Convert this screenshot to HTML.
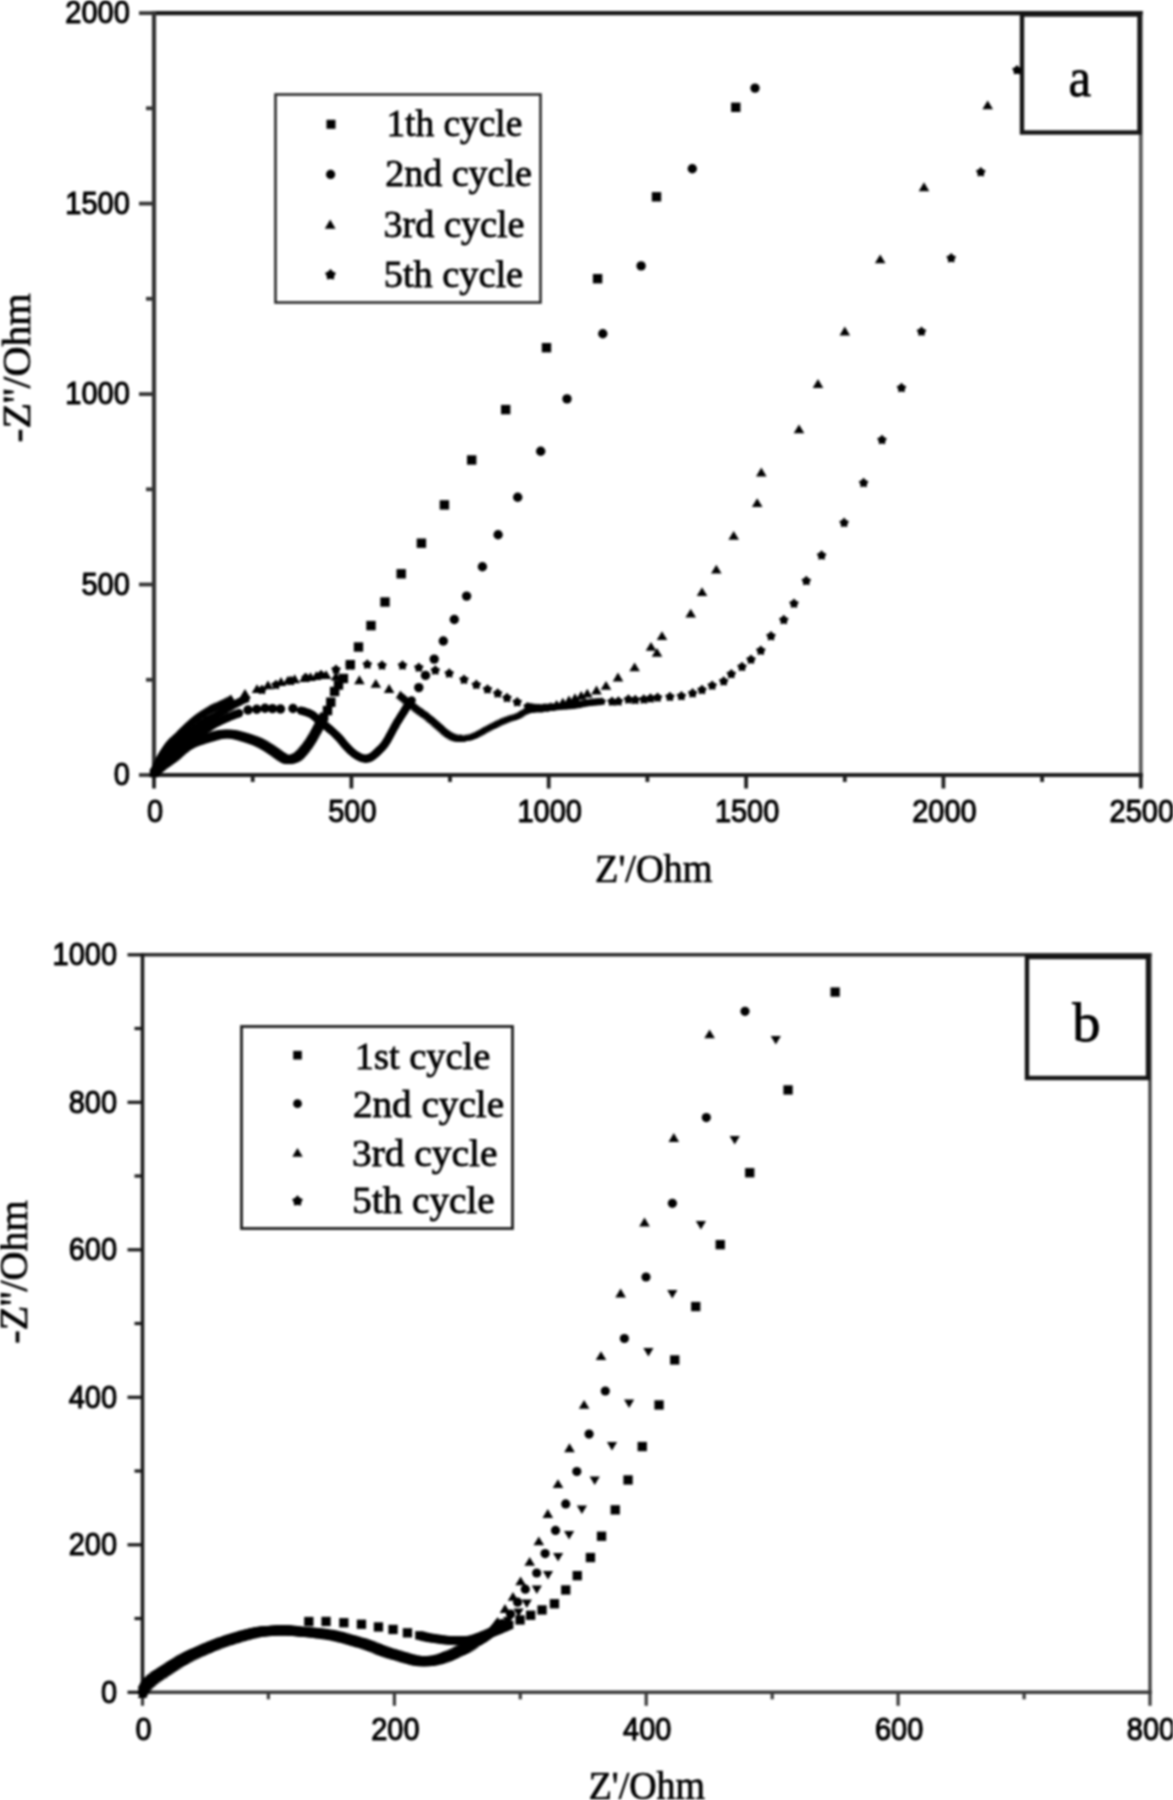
<!DOCTYPE html>
<html><head><meta charset="utf-8"><title>Nyquist plots</title>
<style>
html,body{margin:0;padding:0;background:#fff;}
body{width:1173px;height:1800px;overflow:hidden;}
svg{display:block;filter:blur(1.0px);}
.tk{font-family:"Liberation Sans",sans-serif;font-size:31.5px;fill:#000;stroke:#000;stroke-width:1.1px;}
.ttl{font-family:"Liberation Serif",serif;font-size:39.5px;fill:#000;stroke:#000;stroke-width:0.7px;}
.lg{font-family:"Liberation Serif",serif;font-size:38px;fill:#000;stroke:#000;stroke-width:0.8px;}
.big{font-family:"Liberation Serif",serif;font-size:55px;fill:#000;stroke:#000;stroke-width:0.8px;}
</style></head>
<body>
<svg width="1173" height="1800" viewBox="0 0 1173 1800">
<rect width="1173" height="1800" fill="#fff"/>
<g>
<line x1="151.9" y1="13.1" x2="1142.9" y2="13.1" stroke="#151515" stroke-width="4.2"/>
<line x1="1140.8" y1="13.1" x2="1140.8" y2="775.0" stroke="#5a5a5a" stroke-width="3.78"/>
<line x1="154.0" y1="11.0" x2="154.0" y2="777.1" stroke="#333" stroke-width="4.2"/>
<line x1="151.9" y1="775.0" x2="1142.9" y2="775.0" stroke="#1e1e1e" stroke-width="4.2"/>
<line x1="154.0" y1="775.0" x2="154.0" y2="788.5" stroke="#1e1e1e" stroke-width="3.78"/>
<text transform="translate(155.0 821.8) scale(0.92 1)" text-anchor="middle" class="tk">0</text>
<line x1="351.4" y1="775.0" x2="351.4" y2="788.5" stroke="#1e1e1e" stroke-width="3.78"/>
<text transform="translate(352.4 821.8) scale(0.92 1)" text-anchor="middle" class="tk">500</text>
<line x1="548.7" y1="775.0" x2="548.7" y2="788.5" stroke="#1e1e1e" stroke-width="3.78"/>
<text transform="translate(549.7 821.8) scale(0.92 1)" text-anchor="middle" class="tk">1000</text>
<line x1="746.1" y1="775.0" x2="746.1" y2="788.5" stroke="#1e1e1e" stroke-width="3.78"/>
<text transform="translate(747.1 821.8) scale(0.92 1)" text-anchor="middle" class="tk">1500</text>
<line x1="943.4" y1="775.0" x2="943.4" y2="788.5" stroke="#1e1e1e" stroke-width="3.78"/>
<text transform="translate(944.4 821.8) scale(0.92 1)" text-anchor="middle" class="tk">2000</text>
<line x1="1140.8" y1="775.0" x2="1140.8" y2="788.5" stroke="#1e1e1e" stroke-width="3.78"/>
<text transform="translate(1141.8 821.8) scale(0.92 1)" text-anchor="middle" class="tk">2500</text>
<line x1="252.7" y1="775.0" x2="252.7" y2="782.0" stroke="#1e1e1e" stroke-width="3.78"/>
<line x1="450.0" y1="775.0" x2="450.0" y2="782.0" stroke="#1e1e1e" stroke-width="3.78"/>
<line x1="647.4" y1="775.0" x2="647.4" y2="782.0" stroke="#1e1e1e" stroke-width="3.78"/>
<line x1="844.8" y1="775.0" x2="844.8" y2="782.0" stroke="#1e1e1e" stroke-width="3.78"/>
<line x1="1042.1" y1="775.0" x2="1042.1" y2="782.0" stroke="#1e1e1e" stroke-width="3.78"/>
<line x1="154.0" y1="775.0" x2="139.0" y2="775.0" stroke="#333" stroke-width="3.78"/>
<text transform="translate(129.8 785.3) scale(0.92 1)" text-anchor="end" class="tk">0</text>
<line x1="154.0" y1="584.5" x2="139.0" y2="584.5" stroke="#333" stroke-width="3.78"/>
<text transform="translate(129.8 594.8) scale(0.92 1)" text-anchor="end" class="tk">500</text>
<line x1="154.0" y1="394.1" x2="139.0" y2="394.1" stroke="#333" stroke-width="3.78"/>
<text transform="translate(129.8 404.4) scale(0.92 1)" text-anchor="end" class="tk">1000</text>
<line x1="154.0" y1="203.6" x2="139.0" y2="203.6" stroke="#333" stroke-width="3.78"/>
<text transform="translate(129.8 213.9) scale(0.92 1)" text-anchor="end" class="tk">1500</text>
<line x1="154.0" y1="13.1" x2="139.0" y2="13.1" stroke="#333" stroke-width="3.78"/>
<text transform="translate(129.8 23.4) scale(0.92 1)" text-anchor="end" class="tk">2000</text>
<line x1="154.0" y1="679.8" x2="146.0" y2="679.8" stroke="#333" stroke-width="3.78"/>
<line x1="154.0" y1="489.3" x2="146.0" y2="489.3" stroke="#333" stroke-width="3.78"/>
<line x1="154.0" y1="298.8" x2="146.0" y2="298.8" stroke="#333" stroke-width="3.78"/>
<line x1="154.0" y1="108.3" x2="146.0" y2="108.3" stroke="#333" stroke-width="3.78"/>
<text x="595.09" y="881.50" class="ttl" textLength="117.43" lengthAdjust="spacingAndGlyphs">Z&#39;/Ohm</text>
<text transform="translate(29.50 442.46) rotate(-90)" class="ttl" textLength="149.17" lengthAdjust="spacingAndGlyphs">-Z&#39;&#39;/Ohm</text>
<rect x="275.5" y="94.5" width="265" height="208" fill="#fff" stroke="#2a2a2a" stroke-width="2.6"/>
<g fill="#000"><rect x="326.5" y="119.8" width="9.0" height="9.0"/><circle cx="330.6" cy="174.4" r="4.6"/><path d="M330.2 219.6L335.6 228.7L324.8 228.7Z"/><path d="M330.5 269.0L332.9 271.5L336.0 273.0L334.3 276.0L333.9 279.5L330.5 278.8L327.1 279.5L326.7 276.0L325.0 273.0L328.1 271.5Z"/></g>
<text x="386.44" y="136.20" class="lg" textLength="135.86" lengthAdjust="spacingAndGlyphs">1th cycle</text>
<text x="385.19" y="185.50" class="lg" textLength="146.61" lengthAdjust="spacingAndGlyphs">2nd cycle</text>
<text x="383.49" y="237.00" class="lg" textLength="141.05" lengthAdjust="spacingAndGlyphs">3rd cycle</text>
<text x="383.80" y="287.00" class="lg" textLength="139.23" lengthAdjust="spacingAndGlyphs">5th cycle</text>
<rect x="1022" y="14.5" width="117.5" height="118" fill="#fff" stroke="#151515" stroke-width="4.4"/>
<text x="1068.52" y="96.00" class="big" textLength="22.58" lengthAdjust="spacingAndGlyphs">a</text>
<g fill="#000">
<rect x="149.8" y="768.8" width="8.5" height="8.5"/>
<rect x="151.4" y="767.1" width="8.5" height="8.5"/>
<rect x="153.0" y="765.5" width="8.5" height="8.5"/>
<rect x="154.7" y="764.1" width="8.5" height="8.5"/>
<rect x="156.5" y="762.6" width="8.5" height="8.5"/>
<rect x="158.2" y="761.2" width="8.5" height="8.5"/>
<rect x="160.1" y="759.8" width="8.5" height="8.5"/>
<rect x="161.9" y="758.5" width="8.5" height="8.5"/>
<rect x="163.7" y="757.2" width="8.5" height="8.5"/>
<rect x="165.6" y="755.9" width="8.5" height="8.5"/>
<rect x="167.5" y="754.5" width="8.5" height="8.5"/>
<rect x="169.3" y="753.2" width="8.5" height="8.5"/>
<rect x="171.1" y="751.8" width="8.5" height="8.5"/>
<rect x="172.8" y="750.3" width="8.5" height="8.5"/>
<rect x="174.4" y="748.8" width="8.5" height="8.5"/>
<rect x="176.1" y="747.3" width="8.5" height="8.5"/>
<rect x="177.7" y="745.8" width="8.5" height="8.5"/>
<rect x="179.6" y="744.4" width="8.5" height="8.5"/>
<rect x="181.5" y="742.9" width="8.5" height="8.5"/>
<rect x="183.4" y="741.5" width="8.5" height="8.5"/>
<rect x="185.5" y="740.3" width="8.5" height="8.5"/>
<rect x="187.5" y="739.2" width="8.5" height="8.5"/>
<rect x="189.6" y="738.3" width="8.5" height="8.5"/>
<rect x="191.9" y="737.4" width="8.5" height="8.5"/>
<rect x="194.2" y="736.6" width="8.5" height="8.5"/>
<rect x="196.5" y="735.9" width="8.5" height="8.5"/>
<rect x="198.8" y="735.1" width="8.5" height="8.5"/>
<rect x="201.1" y="734.4" width="8.5" height="8.5"/>
<rect x="203.3" y="733.7" width="8.5" height="8.5"/>
<rect x="205.6" y="733.1" width="8.5" height="8.5"/>
<rect x="207.7" y="732.5" width="8.5" height="8.5"/>
<rect x="210.0" y="731.8" width="8.5" height="8.5"/>
<rect x="212.1" y="731.2" width="8.5" height="8.5"/>
<rect x="214.4" y="730.6" width="8.5" height="8.5"/>
<rect x="216.7" y="730.2" width="8.5" height="8.5"/>
<rect x="218.9" y="729.9" width="8.5" height="8.5"/>
<rect x="221.2" y="729.8" width="8.5" height="8.5"/>
<rect x="223.5" y="729.7" width="8.5" height="8.5"/>
<rect x="225.8" y="729.8" width="8.5" height="8.5"/>
<rect x="228.0" y="730.0" width="8.5" height="8.5"/>
<rect x="230.2" y="730.4" width="8.5" height="8.5"/>
<rect x="232.5" y="730.9" width="8.5" height="8.5"/>
<rect x="234.7" y="731.5" width="8.5" height="8.5"/>
<rect x="237.1" y="732.1" width="8.5" height="8.5"/>
<rect x="239.4" y="732.8" width="8.5" height="8.5"/>
<rect x="241.5" y="733.4" width="8.5" height="8.5"/>
<rect x="243.7" y="734.1" width="8.5" height="8.5"/>
<rect x="245.8" y="734.8" width="8.5" height="8.5"/>
<rect x="248.1" y="735.6" width="8.5" height="8.5"/>
<rect x="250.4" y="736.4" width="8.5" height="8.5"/>
<rect x="252.7" y="737.3" width="8.5" height="8.5"/>
<rect x="254.7" y="738.2" width="8.5" height="8.5"/>
<rect x="256.7" y="739.2" width="8.5" height="8.5"/>
<rect x="258.8" y="740.3" width="8.5" height="8.5"/>
<rect x="260.8" y="741.5" width="8.5" height="8.5"/>
<rect x="262.9" y="742.8" width="8.5" height="8.5"/>
<rect x="265.0" y="744.1" width="8.5" height="8.5"/>
<rect x="267.0" y="745.4" width="8.5" height="8.5"/>
<rect x="268.9" y="746.7" width="8.5" height="8.5"/>
<rect x="270.8" y="748.0" width="8.5" height="8.5"/>
<rect x="272.7" y="749.4" width="8.5" height="8.5"/>
<rect x="274.5" y="750.7" width="8.5" height="8.5"/>
<rect x="276.3" y="752.0" width="8.5" height="8.5"/>
<rect x="278.3" y="753.2" width="8.5" height="8.5"/>
<rect x="280.3" y="754.4" width="8.5" height="8.5"/>
<rect x="282.4" y="755.3" width="8.5" height="8.5"/>
<rect x="284.6" y="755.6" width="8.5" height="8.5"/>
<rect x="286.8" y="755.2" width="8.5" height="8.5"/>
<rect x="288.9" y="754.5" width="8.5" height="8.5"/>
<rect x="291.0" y="753.7" width="8.5" height="8.5"/>
<rect x="293.1" y="752.6" width="8.5" height="8.5"/>
<rect x="295.0" y="751.1" width="8.5" height="8.5"/>
<rect x="296.6" y="749.5" width="8.5" height="8.5"/>
<rect x="298.3" y="747.6" width="8.5" height="8.5"/>
<rect x="299.8" y="745.8" width="8.5" height="8.5"/>
<rect x="301.4" y="743.9" width="8.5" height="8.5"/>
<rect x="302.9" y="741.8" width="8.5" height="8.5"/>
<rect x="304.4" y="739.8" width="8.5" height="8.5"/>
<rect x="305.8" y="737.7" width="8.5" height="8.5"/>
<rect x="307.1" y="735.6" width="8.5" height="8.5"/>
<rect x="308.4" y="733.5" width="8.5" height="8.5"/>
<rect x="309.7" y="731.2" width="8.5" height="8.5"/>
<rect x="310.9" y="729.0" width="8.5" height="8.5"/>
<rect x="312.1" y="726.8" width="8.5" height="8.5"/>
<rect x="313.2" y="724.8" width="8.5" height="8.5"/>
<rect x="314.3" y="722.8" width="8.5" height="8.5"/>
<rect x="315.4" y="720.8" width="8.5" height="8.5"/>
<rect x="316.4" y="718.8" width="8.5" height="8.5"/>
<rect x="317.6" y="716.6" width="8.5" height="8.5"/>
<rect x="318.7" y="714.4" width="8.5" height="8.5"/>
<rect x="319.8" y="712.5" width="8.5" height="8.5"/>
<rect x="322.8" y="705.9" width="9.4" height="9.4"/>
<rect x="326.1" y="697.5" width="9.4" height="9.4"/>
<rect x="329.9" y="686.8" width="9.4" height="9.4"/>
<rect x="333.8" y="680.3" width="9.4" height="9.4"/>
<rect x="338.7" y="673.8" width="9.4" height="9.4"/>
<rect x="345.6" y="660.0" width="9.4" height="9.4"/>
<rect x="353.8" y="642.3" width="9.4" height="9.4"/>
<rect x="366.3" y="620.9" width="9.4" height="9.4"/>
<rect x="380.3" y="597.3" width="9.4" height="9.4"/>
<rect x="396.5" y="569.1" width="9.4" height="9.4"/>
<rect x="416.7" y="538.5" width="9.4" height="9.4"/>
<rect x="439.7" y="500.2" width="9.4" height="9.4"/>
<rect x="467.0" y="455.3" width="9.4" height="9.4"/>
<rect x="501.0" y="404.9" width="9.4" height="9.4"/>
<rect x="541.8" y="343.0" width="9.4" height="9.4"/>
<rect x="592.9" y="274.0" width="9.4" height="9.4"/>
<rect x="651.8" y="192.1" width="9.4" height="9.4"/>
<rect x="731.1" y="102.6" width="9.4" height="9.4"/>
<circle cx="154.0" cy="773.0" r="4.2"/>
<circle cx="154.8" cy="770.9" r="4.2"/>
<circle cx="155.6" cy="768.7" r="4.2"/>
<circle cx="156.7" cy="766.7" r="4.2"/>
<circle cx="158.0" cy="764.8" r="4.2"/>
<circle cx="159.3" cy="762.9" r="4.2"/>
<circle cx="160.6" cy="761.2" r="4.2"/>
<circle cx="162.2" cy="759.4" r="4.2"/>
<circle cx="163.7" cy="757.8" r="4.2"/>
<circle cx="165.4" cy="756.2" r="4.2"/>
<circle cx="167.0" cy="754.5" r="4.2"/>
<circle cx="168.7" cy="752.9" r="4.2"/>
<circle cx="170.4" cy="751.2" r="4.2"/>
<circle cx="172.3" cy="749.6" r="4.2"/>
<circle cx="173.9" cy="748.2" r="4.2"/>
<circle cx="175.7" cy="746.8" r="4.2"/>
<circle cx="177.5" cy="745.5" r="4.2"/>
<circle cx="179.3" cy="744.1" r="4.2"/>
<circle cx="181.2" cy="742.9" r="4.2"/>
<circle cx="183.2" cy="741.7" r="4.2"/>
<circle cx="185.2" cy="740.5" r="4.2"/>
<circle cx="187.2" cy="739.4" r="4.2"/>
<circle cx="189.3" cy="738.2" r="4.2"/>
<circle cx="191.2" cy="737.1" r="4.2"/>
<circle cx="193.3" cy="736.0" r="4.2"/>
<circle cx="195.4" cy="734.8" r="4.2"/>
<circle cx="197.4" cy="733.7" r="4.2"/>
<circle cx="199.6" cy="732.5" r="4.2"/>
<circle cx="201.6" cy="731.5" r="4.2"/>
<circle cx="203.7" cy="730.4" r="4.2"/>
<circle cx="205.6" cy="729.4" r="4.2"/>
<circle cx="207.7" cy="728.2" r="4.2"/>
<circle cx="209.6" cy="727.0" r="4.2"/>
<circle cx="211.4" cy="725.8" r="4.2"/>
<circle cx="213.4" cy="724.5" r="4.2"/>
<circle cx="215.4" cy="723.4" r="4.2"/>
<circle cx="217.6" cy="722.4" r="4.2"/>
<circle cx="219.5" cy="721.4" r="4.2"/>
<circle cx="221.7" cy="720.4" r="4.2"/>
<circle cx="223.9" cy="719.4" r="4.2"/>
<circle cx="226.0" cy="718.4" r="4.2"/>
<circle cx="228.0" cy="717.5" r="4.2"/>
<circle cx="230.1" cy="716.6" r="4.2"/>
<circle cx="232.4" cy="715.7" r="4.2"/>
<circle cx="234.6" cy="714.8" r="4.2"/>
<circle cx="236.8" cy="714.0" r="4.2"/>
<circle cx="239.0" cy="713.2" r="4.2"/>
<circle cx="301.0" cy="710.6" r="4.2"/>
<circle cx="303.6" cy="711.3" r="4.2"/>
<circle cx="306.1" cy="712.1" r="4.2"/>
<circle cx="308.7" cy="713.0" r="4.2"/>
<circle cx="311.2" cy="714.1" r="4.2"/>
<circle cx="313.5" cy="715.7" r="4.2"/>
<circle cx="315.7" cy="717.6" r="4.2"/>
<circle cx="317.8" cy="719.5" r="4.2"/>
<circle cx="320.0" cy="721.3" r="4.2"/>
<circle cx="322.2" cy="723.0" r="4.2"/>
<circle cx="324.4" cy="724.7" r="4.2"/>
<circle cx="326.5" cy="726.4" r="4.2"/>
<circle cx="328.6" cy="728.2" r="4.2"/>
<circle cx="330.7" cy="730.0" r="4.2"/>
<circle cx="332.9" cy="731.9" r="4.2"/>
<circle cx="335.0" cy="733.9" r="4.2"/>
<circle cx="336.9" cy="735.7" r="4.2"/>
<circle cx="338.9" cy="737.8" r="4.2"/>
<circle cx="340.7" cy="739.8" r="4.2"/>
<circle cx="342.3" cy="741.8" r="4.2"/>
<circle cx="344.1" cy="744.0" r="4.2"/>
<circle cx="345.9" cy="746.0" r="4.2"/>
<circle cx="347.8" cy="748.0" r="4.2"/>
<circle cx="349.7" cy="750.0" r="4.2"/>
<circle cx="351.8" cy="751.9" r="4.2"/>
<circle cx="353.9" cy="753.6" r="4.2"/>
<circle cx="356.1" cy="755.1" r="4.2"/>
<circle cx="358.3" cy="756.4" r="4.2"/>
<circle cx="360.7" cy="757.6" r="4.2"/>
<circle cx="363.2" cy="758.4" r="4.2"/>
<circle cx="365.8" cy="758.7" r="4.2"/>
<circle cx="368.5" cy="758.2" r="4.2"/>
<circle cx="370.8" cy="757.2" r="4.2"/>
<circle cx="373.2" cy="755.7" r="4.2"/>
<circle cx="375.3" cy="754.0" r="4.2"/>
<circle cx="377.2" cy="752.2" r="4.2"/>
<circle cx="379.2" cy="750.3" r="4.2"/>
<circle cx="381.2" cy="748.4" r="4.2"/>
<circle cx="383.0" cy="746.4" r="4.2"/>
<circle cx="384.6" cy="744.4" r="4.2"/>
<circle cx="386.2" cy="742.0" r="4.2"/>
<circle cx="387.6" cy="739.7" r="4.2"/>
<circle cx="389.1" cy="737.0" r="4.2"/>
<circle cx="390.4" cy="734.6" r="4.2"/>
<circle cx="391.8" cy="732.1" r="4.2"/>
<circle cx="393.1" cy="729.6" r="4.2"/>
<circle cx="394.5" cy="727.1" r="4.2"/>
<circle cx="395.8" cy="724.8" r="4.2"/>
<circle cx="397.3" cy="722.1" r="4.2"/>
<circle cx="398.7" cy="719.9" r="4.2"/>
<circle cx="400.1" cy="717.6" r="4.2"/>
<circle cx="401.5" cy="715.4" r="4.2"/>
<circle cx="403.1" cy="712.9" r="4.2"/>
<circle cx="404.6" cy="710.5" r="4.2"/>
<circle cx="406.1" cy="708.1" r="4.2"/>
<circle cx="407.6" cy="705.9" r="4.2"/>
<circle cx="409.2" cy="703.6" r="4.2"/>
<circle cx="410.8" cy="701.5" r="4.2"/>
<circle cx="411.6" cy="700.4" r="4.2"/>
<circle cx="248.0" cy="710.0" r="4.7"/>
<circle cx="256.7" cy="709.2" r="4.7"/>
<circle cx="265.0" cy="708.2" r="4.7"/>
<circle cx="272.5" cy="708.6" r="4.7"/>
<circle cx="280.5" cy="709.0" r="4.7"/>
<circle cx="293.0" cy="708.5" r="4.7"/>
<circle cx="418.8" cy="687.6" r="4.7"/>
<circle cx="425.5" cy="675.4" r="4.7"/>
<circle cx="434.2" cy="659.1" r="4.7"/>
<circle cx="443.3" cy="641.0" r="4.7"/>
<circle cx="454.3" cy="619.5" r="4.7"/>
<circle cx="466.6" cy="596.1" r="4.7"/>
<circle cx="482.4" cy="566.8" r="4.7"/>
<circle cx="498.1" cy="534.7" r="4.7"/>
<circle cx="517.7" cy="497.2" r="4.7"/>
<circle cx="540.7" cy="451.2" r="4.7"/>
<circle cx="567.0" cy="398.9" r="4.7"/>
<circle cx="602.8" cy="333.7" r="4.7"/>
<circle cx="641.1" cy="265.9" r="4.7"/>
<circle cx="692.3" cy="168.7" r="4.7"/>
<circle cx="755.0" cy="88.1" r="4.7"/>
<path d="M154.0 768.4L158.8 776.4L149.2 776.4Z"/>
<path d="M154.5 766.2L159.3 774.2L149.7 774.2Z"/>
<path d="M155.0 764.0L159.8 772.0L150.2 772.0Z"/>
<path d="M155.6 761.7L160.4 769.7L150.8 769.7Z"/>
<path d="M156.4 759.4L161.2 767.4L151.5 767.4Z"/>
<path d="M157.2 757.2L162.1 765.2L152.4 765.2Z"/>
<path d="M158.1 755.2L163.0 763.2L153.3 763.2Z"/>
<path d="M159.1 753.2L163.9 761.2L154.3 761.2Z"/>
<path d="M160.2 751.1L165.1 759.1L155.4 759.1Z"/>
<path d="M161.3 749.2L166.1 757.2L156.5 757.2Z"/>
<path d="M162.5 747.3L167.3 755.3L157.6 755.3Z"/>
<path d="M163.8 745.3L168.6 753.3L158.9 753.3Z"/>
<path d="M165.1 743.4L169.9 751.4L160.2 751.4Z"/>
<path d="M166.3 741.6L171.2 749.6L161.5 749.6Z"/>
<path d="M167.7 739.9L172.6 747.9L162.9 747.9Z"/>
<path d="M169.3 738.1L174.1 746.1L164.5 746.1Z"/>
<path d="M170.9 736.5L175.8 744.5L166.1 744.5Z"/>
<path d="M172.7 735.0L177.5 743.0L167.8 743.0Z"/>
<path d="M174.3 733.5L179.1 741.5L169.5 741.5Z"/>
<path d="M176.0 731.9L180.8 739.9L171.2 739.9Z"/>
<path d="M177.7 730.2L182.5 738.2L172.9 738.2Z"/>
<path d="M179.3 728.6L184.1 736.6L174.4 736.6Z"/>
<path d="M180.9 727.0L185.7 735.0L176.1 735.0Z"/>
<path d="M182.5 725.4L187.4 733.3L177.7 733.3Z"/>
<path d="M184.2 723.7L189.0 731.7L179.4 731.7Z"/>
<path d="M186.0 722.1L190.8 730.1L181.1 730.1Z"/>
<path d="M187.8 720.5L192.6 728.4L182.9 728.4Z"/>
<path d="M189.6 718.8L194.4 726.8L184.8 726.8Z"/>
<path d="M191.4 717.2L196.2 725.2L186.6 725.2Z"/>
<path d="M193.2 715.8L198.1 723.7L188.4 723.7Z"/>
<path d="M195.0 714.3L199.9 722.3L190.2 722.3Z"/>
<path d="M196.8 713.0L201.7 721.0L192.0 721.0Z"/>
<path d="M198.6 711.7L203.5 719.7L193.8 719.7Z"/>
<path d="M200.7 710.3L205.5 718.3L195.8 718.3Z"/>
<path d="M202.7 709.0L207.5 717.0L197.8 717.0Z"/>
<path d="M204.7 707.7L209.5 715.7L199.9 715.7Z"/>
<path d="M206.7 706.4L211.6 714.4L201.9 714.4Z"/>
<path d="M208.8 705.2L213.6 713.2L203.9 713.2Z"/>
<path d="M210.8 704.1L215.6 712.0L205.9 712.0Z"/>
<path d="M212.8 703.1L217.6 711.1L207.9 711.1Z"/>
<path d="M214.9 702.1L219.8 710.1L210.1 710.1Z"/>
<path d="M217.2 701.2L222.0 709.2L212.3 709.2Z"/>
<path d="M219.3 700.3L224.1 708.3L214.4 708.3Z"/>
<path d="M221.4 699.3L226.2 707.3L216.5 707.3Z"/>
<path d="M223.5 698.2L228.3 706.2L218.7 706.2Z"/>
<path d="M225.7 697.1L230.6 705.1L220.9 705.1Z"/>
<path d="M227.9 696.0L232.7 704.0L223.1 704.0Z"/>
<path d="M229.9 695.0L234.8 703.0L225.1 703.0Z"/>
<path d="M231.0 694.4L235.8 702.4L226.2 702.4Z"/>
<path d="M400.4 690.6L405.2 698.6L395.6 698.6Z"/>
<path d="M402.3 692.2L407.2 700.2L397.5 700.2Z"/>
<path d="M404.3 693.8L409.1 701.8L399.5 701.8Z"/>
<path d="M406.2 695.4L411.1 703.4L401.4 703.4Z"/>
<path d="M408.2 697.0L413.0 705.0L403.4 705.0Z"/>
<path d="M410.0 698.4L414.8 706.4L405.2 706.4Z"/>
<path d="M412.0 700.0L416.8 708.0L407.2 708.0Z"/>
<path d="M414.0 701.6L418.9 709.6L409.2 709.6Z"/>
<path d="M416.1 703.2L420.9 711.2L411.2 711.2Z"/>
<path d="M418.0 704.7L422.8 712.7L413.2 712.7Z"/>
<path d="M420.0 706.2L424.8 714.2L415.2 714.2Z"/>
<path d="M422.0 707.6L426.8 715.6L417.1 715.6Z"/>
<path d="M423.9 708.9L428.7 716.9L419.1 716.9Z"/>
<path d="M426.0 710.4L430.8 718.3L421.1 718.3Z"/>
<path d="M427.9 711.8L432.7 719.8L423.1 719.8Z"/>
<path d="M429.8 713.4L434.6 721.4L425.0 721.4Z"/>
<path d="M431.7 715.0L436.6 723.0L426.9 723.0Z"/>
<path d="M433.7 716.6L438.5 724.6L428.8 724.6Z"/>
<path d="M435.6 718.3L440.4 726.3L430.7 726.3Z"/>
<path d="M437.3 719.8L442.2 727.8L432.5 727.8Z"/>
<path d="M439.1 721.3L443.9 729.3L434.2 729.3Z"/>
<path d="M440.8 722.8L445.7 730.8L436.0 730.8Z"/>
<path d="M442.6 724.3L447.4 732.3L437.7 732.3Z"/>
<path d="M444.3 725.9L449.2 733.9L439.5 733.9Z"/>
<path d="M446.1 727.4L450.9 735.4L441.2 735.4Z"/>
<path d="M448.0 728.9L452.8 736.9L443.2 736.9Z"/>
<path d="M449.9 730.3L454.8 738.3L445.1 738.3Z"/>
<path d="M452.0 731.5L456.9 739.5L447.2 739.5Z"/>
<path d="M454.1 732.6L459.0 740.6L449.3 740.6Z"/>
<path d="M456.3 733.3L461.1 741.3L451.5 741.3Z"/>
<path d="M458.7 733.7L463.6 741.7L453.9 741.7Z"/>
<path d="M461.0 733.8L465.9 741.8L456.2 741.8Z"/>
<path d="M462.0 734.4L466.4 741.5L457.6 741.5Z"/>
<path d="M464.6 734.0L469.0 741.1L460.3 741.1Z"/>
<path d="M467.3 733.6L471.7 740.7L463.0 740.7Z"/>
<path d="M470.0 732.9L474.4 740.0L465.6 740.0Z"/>
<path d="M472.6 732.0L477.0 739.1L468.2 739.1Z"/>
<path d="M475.0 730.9L479.4 738.0L470.6 738.0Z"/>
<path d="M477.4 729.7L481.8 736.8L473.0 736.8Z"/>
<path d="M479.8 728.5L484.2 735.6L475.4 735.6Z"/>
<path d="M482.2 727.1L486.6 734.2L477.8 734.2Z"/>
<path d="M484.6 725.7L489.0 732.8L480.2 732.8Z"/>
<path d="M487.0 724.4L491.4 731.5L482.6 731.5Z"/>
<path d="M489.4 723.2L493.8 730.3L485.1 730.3Z"/>
<path d="M491.8 722.0L496.2 729.1L487.5 729.1Z"/>
<path d="M494.2 720.8L498.6 728.0L489.8 728.0Z"/>
<path d="M496.6 719.6L501.0 726.7L492.3 726.7Z"/>
<path d="M499.0 718.4L503.4 725.5L494.6 725.5Z"/>
<path d="M501.4 717.3L505.8 724.4L497.0 724.4Z"/>
<path d="M503.9 716.3L508.2 723.4L499.5 723.4Z"/>
<path d="M506.3 715.4L510.7 722.5L502.0 722.5Z"/>
<path d="M508.8 714.5L513.2 721.6L504.4 721.6Z"/>
<path d="M511.4 713.7L515.8 720.8L507.1 720.8Z"/>
<path d="M514.1 712.9L518.4 720.1L509.7 720.1Z"/>
<path d="M516.7 711.9L521.1 719.0L512.3 719.0Z"/>
<path d="M519.2 710.6L523.6 717.7L514.9 717.7Z"/>
<path d="M521.5 709.2L525.8 716.3L517.1 716.3Z"/>
<path d="M523.9 707.7L528.2 714.8L519.5 714.8Z"/>
<path d="M526.2 706.6L530.6 713.7L521.8 713.7Z"/>
<path d="M528.8 705.9L533.1 713.0L524.4 713.0Z"/>
<path d="M531.3 705.6L535.7 712.7L527.0 712.7Z"/>
<path d="M538.2 703.7L543.5 712.6L532.9 712.6Z"/>
<path d="M544.3 702.9L549.6 711.8L539.0 711.8Z"/>
<path d="M550.5 701.9L555.8 710.8L545.2 710.8Z"/>
<path d="M556.6 699.9L561.9 708.8L551.3 708.8Z"/>
<path d="M562.8 697.7L568.1 706.6L557.5 706.6Z"/>
<path d="M569.0 695.5L574.3 704.4L563.7 704.4Z"/>
<path d="M575.0 693.3L580.3 702.2L569.7 702.2Z"/>
<path d="M581.2 690.9L586.5 699.8L575.9 699.8Z"/>
<path d="M245.0 688.9L250.3 697.8L239.7 697.8Z"/>
<path d="M257.0 684.2L262.3 693.1L251.7 693.1Z"/>
<path d="M268.0 680.4L273.3 689.3L262.7 689.3Z"/>
<path d="M281.0 677.1L286.3 686.0L275.7 686.0Z"/>
<path d="M288.0 675.7L293.3 684.6L282.7 684.6Z"/>
<path d="M294.7 674.3L300.0 683.2L289.4 683.2Z"/>
<path d="M304.5 673.1L309.8 682.0L299.2 682.0Z"/>
<path d="M310.5 672.2L315.8 681.1L305.2 681.1Z"/>
<path d="M316.3 671.2L321.6 680.1L311.0 680.1Z"/>
<path d="M326.1 670.2L331.4 679.1L320.8 679.1Z"/>
<path d="M336.0 671.7L341.3 680.6L330.7 680.6Z"/>
<path d="M343.0 673.9L348.3 682.8L337.7 682.8Z"/>
<path d="M359.4 675.3L364.7 684.2L354.1 684.2Z"/>
<path d="M375.8 678.9L381.1 687.8L370.5 687.8Z"/>
<path d="M389.1 684.0L394.4 692.9L383.8 692.9Z"/>
<path d="M587.3 688.7L592.6 697.6L582.0 697.6Z"/>
<path d="M596.5 685.6L601.8 694.5L591.2 694.5Z"/>
<path d="M606.0 680.9L611.3 689.8L600.7 689.8Z"/>
<path d="M618.0 672.6L623.3 681.5L612.7 681.5Z"/>
<path d="M634.6 662.4L639.9 671.3L629.3 671.3Z"/>
<path d="M651.0 641.9L656.3 650.8L645.7 650.8Z"/>
<path d="M657.0 647.9L662.3 656.8L651.7 656.8Z"/>
<path d="M662.0 631.2L667.3 640.1L656.7 640.1Z"/>
<path d="M690.7 608.7L696.0 617.6L685.4 617.6Z"/>
<path d="M702.0 587.2L707.3 596.1L696.7 596.1Z"/>
<path d="M716.3 564.7L721.6 573.6L711.0 573.6Z"/>
<path d="M733.7 530.9L739.0 539.8L728.4 539.8Z"/>
<path d="M757.2 498.2L762.5 507.1L751.9 507.1Z"/>
<path d="M761.3 467.5L766.6 476.4L756.0 476.4Z"/>
<path d="M799.0 424.4L804.3 433.3L793.7 433.3Z"/>
<path d="M818.0 379.0L823.3 387.9L812.7 387.9Z"/>
<path d="M844.8 326.5L850.1 335.4L839.5 335.4Z"/>
<path d="M880.2 254.4L885.5 263.3L874.9 263.3Z"/>
<path d="M924.0 182.3L929.3 191.2L918.7 191.2Z"/>
<path d="M987.7 100.4L993.0 109.3L982.4 109.3Z"/>
<path d="M154.0 768.4L155.9 770.4L158.4 771.6L157.1 774.0L156.7 776.8L154.0 776.3L151.3 776.8L150.9 774.0L149.6 771.6L152.1 770.4Z"/>
<path d="M154.8 766.3L156.7 768.3L159.2 769.5L157.9 771.9L157.5 774.7L154.8 774.2L152.1 774.7L151.7 771.9L150.4 769.5L152.9 768.3Z"/>
<path d="M155.7 764.1L157.6 766.1L160.1 767.3L158.8 769.7L158.4 772.5L155.7 772.0L152.9 772.5L152.6 769.7L151.3 767.3L153.8 766.1Z"/>
<path d="M156.7 762.0L158.6 764.0L161.1 765.2L159.8 767.7L159.4 770.4L156.7 769.9L153.9 770.4L153.6 767.7L152.3 765.2L154.8 764.0Z"/>
<path d="M157.8 760.0L159.7 762.1L162.2 763.2L160.9 765.7L160.6 768.4L157.8 767.9L155.1 768.4L154.7 765.7L153.4 763.2L155.9 762.1Z"/>
<path d="M159.0 758.1L161.0 760.1L163.5 761.3L162.1 763.8L161.8 766.5L159.0 766.0L156.3 766.5L155.9 763.8L154.6 761.3L157.1 760.1Z"/>
<path d="M160.3 756.3L162.2 758.3L164.7 759.5L163.4 762.0L163.0 764.7L160.3 764.2L157.6 764.7L157.2 762.0L155.9 759.5L158.4 758.3Z"/>
<path d="M161.7 754.4L163.7 756.4L166.2 757.6L164.8 760.0L164.5 762.8L161.7 762.3L159.0 762.8L158.7 760.0L157.3 757.6L159.8 756.4Z"/>
<path d="M163.2 752.5L165.1 754.5L167.6 755.7L166.3 758.1L166.0 760.9L163.2 760.4L160.5 760.9L160.1 758.1L158.8 755.7L161.3 754.5Z"/>
<path d="M164.6 750.8L166.6 752.8L169.1 754.0L167.7 756.4L167.4 759.2L164.6 758.7L161.9 759.2L161.6 756.4L160.2 754.0L162.7 752.8Z"/>
<path d="M166.1 749.0L168.0 751.0L170.5 752.2L169.2 754.7L168.9 757.4L166.1 756.9L163.4 757.4L163.0 754.7L161.7 752.2L164.2 751.0Z"/>
<path d="M167.6 747.3L169.5 749.3L172.0 750.5L170.7 752.9L170.4 755.7L167.6 755.2L164.9 755.7L164.5 752.9L163.2 750.5L165.7 749.3Z"/>
<path d="M169.1 745.6L171.0 747.6L173.6 748.8L172.2 751.2L171.9 754.0L169.1 753.5L166.4 754.0L166.0 751.2L164.7 748.8L167.2 747.6Z"/>
<path d="M170.7 743.8L172.6 745.8L175.1 747.0L173.8 749.5L173.4 752.2L170.7 751.7L168.0 752.2L167.6 749.5L166.3 747.0L168.8 745.8Z"/>
<path d="M172.3 742.1L174.2 744.1L176.7 745.3L175.4 747.7L175.0 750.5L172.3 750.0L169.5 750.5L169.2 747.7L167.9 745.3L170.4 744.1Z"/>
<path d="M173.9 740.4L175.8 742.4L178.3 743.6L177.0 746.0L176.6 748.8L173.9 748.3L171.2 748.8L170.8 746.0L169.5 743.6L172.0 742.4Z"/>
<path d="M175.6 738.7L177.5 740.8L180.0 742.0L178.7 744.4L178.3 747.1L175.6 746.6L172.8 747.1L172.5 744.4L171.2 742.0L173.7 740.8Z"/>
<path d="M177.3 737.2L179.2 739.2L181.7 740.4L180.4 742.9L180.0 745.6L177.3 745.1L174.6 745.6L174.2 742.9L172.9 740.4L175.4 739.2Z"/>
<path d="M179.0 735.8L180.9 737.8L183.5 739.0L182.1 741.5L181.8 744.2L179.0 743.7L176.3 744.2L175.9 741.5L174.6 739.0L177.1 737.8Z"/>
<path d="M180.8 734.5L182.7 736.5L185.2 737.7L183.9 740.1L183.6 742.9L180.8 742.4L178.1 742.9L177.7 740.1L176.4 737.7L178.9 736.5Z"/>
<path d="M182.7 733.1L184.6 735.1L187.1 736.3L185.7 738.8L185.4 741.5L182.7 741.0L179.9 741.5L179.6 738.8L178.2 736.3L180.7 735.1Z"/>
<path d="M184.5 731.7L186.4 733.7L188.9 734.9L187.6 737.4L187.3 740.1L184.5 739.6L181.8 740.1L181.4 737.4L180.1 734.9L182.6 733.7Z"/>
<path d="M186.4 730.3L188.4 732.3L190.9 733.5L189.5 735.9L189.2 738.7L186.4 738.1L183.7 738.7L183.4 735.9L182.0 733.5L184.5 732.3Z"/>
<path d="M188.4 728.7L190.3 730.8L192.8 732.0L191.5 734.4L191.2 737.1L188.4 736.6L185.7 737.1L185.3 734.4L184.0 732.0L186.5 730.8Z"/>
<path d="M190.2 727.4L192.1 729.4L194.6 730.6L193.3 733.1L192.9 735.8L190.2 735.3L187.5 735.8L187.1 733.1L185.8 730.6L188.3 729.4Z"/>
<path d="M192.0 726.1L193.9 728.1L196.4 729.3L195.1 731.7L194.7 734.5L192.0 734.0L189.2 734.5L188.9 731.7L187.6 729.3L190.1 728.1Z"/>
<path d="M193.7 724.8L195.7 726.8L198.2 728.0L196.8 730.4L196.5 733.2L193.7 732.7L191.0 733.2L190.7 730.4L189.3 728.0L191.8 726.8Z"/>
<path d="M195.8 723.3L197.7 725.3L200.2 726.5L198.8 729.0L198.5 731.7L195.8 731.2L193.0 731.7L192.7 729.0L191.3 726.5L193.8 725.3Z"/>
<path d="M197.8 721.8L199.7 723.9L202.2 725.0L200.9 727.5L200.5 730.2L197.8 729.7L195.0 730.2L194.7 727.5L193.4 725.0L195.9 723.9Z"/>
<path d="M199.8 720.4L201.7 722.4L204.2 723.6L202.9 726.0L202.5 728.8L199.8 728.3L197.1 728.8L196.7 726.0L195.4 723.6L197.9 722.4Z"/>
<path d="M201.8 719.0L203.7 721.0L206.2 722.2L204.9 724.6L204.6 727.4L201.8 726.9L199.1 727.4L198.7 724.6L197.4 722.2L199.9 721.0Z"/>
<path d="M203.8 717.6L205.7 719.6L208.2 720.8L206.9 723.3L206.5 726.0L203.8 725.5L201.1 726.0L200.7 723.3L199.4 720.8L201.9 719.6Z"/>
<path d="M205.7 716.4L207.6 718.4L210.1 719.6L208.8 722.1L208.4 724.8L205.7 724.3L203.0 724.8L202.6 722.1L201.3 719.6L203.8 718.4Z"/>
<path d="M207.8 715.2L209.7 717.2L212.2 718.4L210.9 720.8L210.5 723.6L207.8 723.1L205.1 723.6L204.7 720.8L203.4 718.4L205.9 717.2Z"/>
<path d="M209.8 714.1L211.8 716.1L214.3 717.3L212.9 719.7L212.6 722.5L209.8 722.0L207.1 722.5L206.8 719.7L205.4 717.3L207.9 716.1Z"/>
<path d="M211.8 713.0L213.8 715.0L216.3 716.2L214.9 718.7L214.6 721.4L211.8 720.9L209.1 721.4L208.8 718.7L207.4 716.2L209.9 715.0Z"/>
<path d="M213.8 712.0L215.7 714.0L218.2 715.2L216.9 717.6L216.5 720.4L213.8 719.9L211.1 720.4L210.7 717.6L209.4 715.2L211.9 714.0Z"/>
<path d="M215.9 710.8L217.8 712.8L220.3 714.0L219.0 716.5L218.6 719.2L215.9 718.7L213.1 719.2L212.8 716.5L211.5 714.0L214.0 712.8Z"/>
<path d="M217.9 709.7L219.8 711.7L222.3 712.9L221.0 715.4L220.6 718.1L217.9 717.6L215.1 718.1L214.8 715.4L213.4 712.9L216.0 711.7Z"/>
<path d="M219.8 708.6L221.7 710.6L224.2 711.8L222.9 714.3L222.6 717.0L219.8 716.5L217.1 717.0L216.7 714.3L215.4 711.8L217.9 710.6Z"/>
<path d="M221.8 707.5L223.7 709.5L226.2 710.7L224.9 713.1L224.5 715.9L221.8 715.4L219.1 715.9L218.7 713.1L217.4 710.7L219.9 709.5Z"/>
<path d="M223.8 706.3L225.7 708.3L228.2 709.5L226.9 711.9L226.5 714.7L223.8 714.1L221.1 714.7L220.7 711.9L219.4 709.5L221.9 708.3Z"/>
<path d="M225.8 705.0L227.7 707.0L230.2 708.2L228.9 710.6L228.5 713.4L225.8 712.9L223.1 713.4L222.7 710.6L221.4 708.2L223.9 707.0Z"/>
<path d="M227.8 703.7L229.7 705.7L232.2 706.9L230.9 709.4L230.5 712.1L227.8 711.6L225.1 712.1L224.7 709.4L223.4 706.9L225.9 705.7Z"/>
<path d="M229.8 702.5L231.7 704.5L234.2 705.7L232.9 708.1L232.5 710.9L229.8 710.4L227.1 710.9L226.7 708.1L225.4 705.7L227.9 704.5Z"/>
<path d="M231.8 701.3L233.7 703.3L236.2 704.5L234.9 706.9L234.5 709.7L231.8 709.2L229.1 709.7L228.7 706.9L227.4 704.5L229.9 703.3Z"/>
<path d="M233.8 700.2L235.7 702.2L238.2 703.4L236.9 705.8L236.5 708.6L233.8 708.1L231.0 708.6L230.7 705.8L229.4 703.4L231.9 702.2Z"/>
<path d="M235.8 699.0L237.7 701.1L240.2 702.3L238.9 704.7L238.5 707.4L235.8 706.9L233.0 707.4L232.7 704.7L231.3 702.3L233.9 701.1Z"/>
<path d="M237.8 698.0L239.7 700.0L242.2 701.2L240.9 703.6L240.5 706.4L237.8 705.9L235.1 706.4L234.7 703.6L233.4 701.2L235.9 700.0Z"/>
<path d="M239.8 697.0L241.7 699.0L244.2 700.2L242.9 702.6L242.5 705.4L239.8 704.9L237.1 705.4L236.7 702.6L235.4 700.2L237.9 699.0Z"/>
<path d="M242.0 695.9L243.9 697.9L246.4 699.1L245.1 701.6L244.7 704.3L242.0 703.8L239.3 704.3L238.9 701.6L237.6 699.1L240.1 697.9Z"/>
<path d="M244.1 694.9L246.0 697.0L248.6 698.1L247.2 700.6L246.9 703.3L244.1 702.8L241.4 703.3L241.0 700.6L239.7 698.1L242.2 697.0Z"/>
<path d="M246.3 694.0L248.2 696.0L250.7 697.2L249.4 699.6L249.0 702.4L246.3 701.9L243.5 702.4L243.2 699.6L241.8 697.2L244.4 696.0Z"/>
<path d="M527.4 701.9L529.2 703.8L531.6 704.9L530.3 707.2L530.0 709.8L527.4 709.4L524.8 709.8L524.5 707.2L523.2 704.9L525.6 703.8Z"/>
<path d="M530.0 702.4L531.8 704.3L534.1 705.4L532.9 707.7L532.5 710.3L530.0 709.8L527.4 710.3L527.0 707.7L525.8 705.4L528.1 704.3Z"/>
<path d="M532.4 702.8L534.2 704.7L536.6 705.8L535.3 708.1L535.0 710.7L532.4 710.2L529.9 710.7L529.5 708.1L528.3 705.8L530.6 704.7Z"/>
<path d="M535.1 703.2L536.9 705.1L539.3 706.2L538.0 708.5L537.7 711.1L535.1 710.6L532.5 711.1L532.2 708.5L530.9 706.2L533.3 705.1Z"/>
<path d="M537.6 703.4L539.4 705.3L541.8 706.4L540.5 708.7L540.2 711.3L537.6 710.9L535.0 711.3L534.7 708.7L533.4 706.4L535.8 705.3Z"/>
<path d="M540.1 703.5L542.0 705.4L544.3 706.5L543.1 708.8L542.7 711.4L540.1 710.9L537.6 711.4L537.2 708.8L536.0 706.5L538.3 705.4Z"/>
<path d="M542.7 703.4L544.5 705.3L546.9 706.5L545.6 708.8L545.3 711.4L542.7 710.9L540.1 711.4L539.8 708.8L538.5 706.5L540.9 705.3Z"/>
<path d="M545.3 703.3L547.1 705.2L549.5 706.3L548.2 708.6L547.9 711.2L545.3 710.7L542.7 711.2L542.4 708.6L541.1 706.3L543.5 705.2Z"/>
<path d="M547.7 703.1L549.5 705.0L551.9 706.2L550.6 708.5L550.3 711.1L547.7 710.6L545.1 711.1L544.8 708.5L543.5 706.2L545.9 705.0Z"/>
<path d="M550.2 703.0L552.1 704.9L554.4 706.0L553.2 708.3L552.8 710.9L550.2 710.4L547.7 710.9L547.3 708.3L546.1 706.0L548.4 704.9Z"/>
<path d="M552.8 702.7L554.6 704.7L557.0 705.8L555.8 708.1L555.4 710.7L552.8 710.2L550.3 710.7L549.9 708.1L548.7 705.8L551.0 704.7Z"/>
<path d="M555.5 702.5L557.3 704.4L559.7 705.5L558.4 707.8L558.1 710.4L555.5 710.0L552.9 710.4L552.6 707.8L551.3 705.5L553.7 704.4Z"/>
<path d="M558.0 702.3L559.8 704.2L562.2 705.3L560.9 707.6L560.6 710.2L558.0 709.7L555.4 710.2L555.1 707.6L553.9 705.3L556.2 704.2Z"/>
<path d="M560.7 702.1L562.5 704.0L564.9 705.1L563.6 707.4L563.3 710.0L560.7 709.5L558.1 710.0L557.8 707.4L556.5 705.1L558.9 704.0Z"/>
<path d="M563.2 701.9L565.0 703.8L567.4 704.9L566.1 707.2L565.8 709.8L563.2 709.3L560.6 709.8L560.3 707.2L559.1 704.9L561.4 703.8Z"/>
<path d="M565.9 701.7L567.7 703.6L570.1 704.7L568.8 707.0L568.5 709.6L565.9 709.2L563.3 709.6L563.0 707.0L561.7 704.7L564.1 703.6Z"/>
<path d="M568.7 701.5L570.5 703.4L572.8 704.5L571.6 706.8L571.2 709.4L568.7 709.0L566.1 709.4L565.7 706.8L564.5 704.5L566.9 703.4Z"/>
<path d="M571.4 701.3L573.2 703.2L575.5 704.3L574.3 706.6L573.9 709.2L571.4 708.8L568.8 709.2L568.4 706.6L567.2 704.3L569.6 703.2Z"/>
<path d="M574.0 701.0L575.8 702.9L578.1 704.1L576.9 706.4L576.5 709.0L574.0 708.5L571.4 709.0L571.0 706.4L569.8 704.1L572.1 702.9Z"/>
<path d="M576.6 700.7L578.5 702.6L580.8 703.7L579.6 706.0L579.2 708.6L576.6 708.1L574.1 708.6L573.7 706.0L572.5 703.7L574.8 702.6Z"/>
<path d="M579.1 700.2L580.9 702.1L583.3 703.3L582.0 705.6L581.7 708.2L579.1 707.7L576.5 708.2L576.2 705.6L574.9 703.3L577.3 702.1Z"/>
<path d="M581.7 699.7L583.5 701.6L585.9 702.7L584.6 705.0L584.3 707.6L581.7 707.1L579.1 707.6L578.8 705.0L577.5 702.7L579.9 701.6Z"/>
<path d="M584.1 699.2L585.9 701.1L588.2 702.2L587.0 704.5L586.7 707.1L584.1 706.6L581.5 707.1L581.2 704.5L579.9 702.2L582.3 701.1Z"/>
<path d="M586.6 698.7L588.4 700.6L590.8 701.7L589.5 704.0L589.2 706.6L586.6 706.2L584.0 706.6L583.7 704.0L582.4 701.7L584.8 700.6Z"/>
<path d="M589.2 698.4L591.0 700.3L593.3 701.4L592.1 703.7L591.8 706.3L589.2 705.8L586.6 706.3L586.3 703.7L585.0 701.4L587.4 700.3Z"/>
<path d="M591.7 698.1L593.5 700.0L595.9 701.1L594.6 703.4L594.3 706.0L591.7 705.6L589.1 706.0L588.8 703.4L587.5 701.1L589.9 700.0Z"/>
<path d="M594.4 697.8L596.2 699.7L598.6 700.9L597.3 703.2L597.0 705.8L594.4 705.3L591.8 705.8L591.5 703.2L590.2 700.9L592.6 699.7Z"/>
<path d="M597.0 697.6L598.8 699.5L601.2 700.6L599.9 702.9L599.6 705.5L597.0 705.1L594.4 705.5L594.1 702.9L592.8 700.6L595.2 699.5Z"/>
<path d="M599.4 697.4L601.2 699.3L603.6 700.4L602.3 702.7L602.0 705.3L599.4 704.9L596.8 705.3L596.5 702.7L595.2 700.4L597.6 699.3Z"/>
<path d="M601.9 697.2L603.7 699.1L606.1 700.2L604.9 702.5L604.5 705.1L601.9 704.6L599.4 705.1L599.0 702.5L597.8 700.2L600.1 699.1Z"/>
<path d="M262.0 684.8L264.1 687.1L266.9 688.4L265.4 691.1L265.0 694.2L262.0 693.6L259.0 694.2L258.6 691.1L257.1 688.4L259.9 687.1Z"/>
<path d="M276.0 679.8L278.1 682.1L280.9 683.4L279.4 686.1L279.0 689.2L276.0 688.6L273.0 689.2L272.6 686.1L271.1 683.4L273.9 682.1Z"/>
<path d="M291.0 675.8L293.1 678.1L295.9 679.4L294.4 682.1L294.0 685.2L291.0 684.6L288.0 685.2L287.6 682.1L286.1 679.4L288.9 678.1Z"/>
<path d="M306.0 672.8L308.1 675.1L310.9 676.4L309.4 679.1L309.0 682.2L306.0 681.6L303.0 682.2L302.6 679.1L301.1 676.4L303.9 675.1Z"/>
<path d="M321.0 669.8L323.1 672.1L325.9 673.4L324.4 676.1L324.0 679.2L321.0 678.6L318.0 679.2L317.6 676.1L316.1 673.4L318.9 672.1Z"/>
<path d="M336.0 664.4L338.1 666.7L340.9 668.0L339.4 670.7L339.0 673.8L336.0 673.2L333.0 673.8L332.6 670.7L331.1 668.0L333.9 666.7Z"/>
<path d="M350.0 660.3L352.1 662.6L354.9 663.9L353.4 666.6L353.0 669.7L350.0 669.1L347.0 669.7L346.6 666.6L345.1 663.9L347.9 662.6Z"/>
<path d="M367.3 659.3L369.4 661.6L372.2 662.9L370.7 665.6L370.3 668.7L367.3 668.1L364.3 668.7L363.9 665.6L362.4 662.9L365.2 661.6Z"/>
<path d="M382.0 660.3L384.1 662.6L386.9 663.9L385.4 666.6L385.0 669.7L382.0 669.1L379.0 669.7L378.6 666.6L377.1 663.9L379.9 662.6Z"/>
<path d="M402.5 660.3L404.6 662.6L407.4 663.9L405.9 666.6L405.5 669.7L402.5 669.1L399.5 669.7L399.1 666.6L397.6 663.9L400.4 662.6Z"/>
<path d="M418.8 662.4L420.9 664.7L423.7 666.0L422.2 668.7L421.8 671.8L418.8 671.2L415.8 671.8L415.4 668.7L413.9 666.0L416.7 664.7Z"/>
<path d="M435.3 665.3L437.4 667.6L440.2 668.9L438.7 671.6L438.3 674.7L435.3 674.1L432.3 674.7L431.9 671.6L430.4 668.9L433.2 667.6Z"/>
<path d="M449.2 668.3L451.3 670.6L454.1 671.9L452.6 674.6L452.2 677.7L449.2 677.1L446.2 677.7L445.8 674.6L444.3 671.9L447.1 670.6Z"/>
<path d="M464.0 674.5L466.1 676.8L468.9 678.1L467.4 680.8L467.0 683.9L464.0 683.3L461.0 683.9L460.6 680.8L459.1 678.1L461.9 676.8Z"/>
<path d="M476.3 679.6L478.4 681.9L481.2 683.2L479.7 685.9L479.3 689.0L476.3 688.4L473.3 689.0L472.9 685.9L471.4 683.2L474.2 681.9Z"/>
<path d="M487.5 684.2L489.6 686.5L492.4 687.8L490.9 690.5L490.5 693.6L487.5 693.0L484.5 693.6L484.1 690.5L482.6 687.8L485.4 686.5Z"/>
<path d="M497.7 688.3L499.8 690.6L502.6 691.9L501.1 694.6L500.7 697.7L497.7 697.1L494.7 697.7L494.3 694.6L492.8 691.9L495.6 690.6Z"/>
<path d="M507.0 692.8L509.1 695.1L511.9 696.4L510.4 699.1L510.0 702.2L507.0 701.6L504.0 702.2L503.6 699.1L502.1 696.4L504.9 695.1Z"/>
<path d="M517.2 697.0L519.3 699.3L522.1 700.6L520.6 703.3L520.2 706.4L517.2 705.8L514.2 706.4L513.8 703.3L512.3 700.6L515.1 699.3Z"/>
<path d="M612.0 696.4L614.1 698.7L616.9 700.0L615.4 702.7L615.0 705.8L612.0 705.2L609.0 705.8L608.6 702.7L607.1 700.0L609.9 698.7Z"/>
<path d="M618.4 696.3L620.5 698.6L623.3 699.9L621.8 702.6L621.4 705.7L618.4 705.1L615.4 705.7L615.0 702.6L613.5 699.9L616.3 698.6Z"/>
<path d="M628.4 694.3L630.5 696.6L633.3 697.9L631.8 700.6L631.4 703.7L628.4 703.1L625.4 703.7L625.0 700.6L623.5 697.9L626.3 696.6Z"/>
<path d="M635.3 694.8L637.4 697.1L640.2 698.4L638.7 701.1L638.3 704.2L635.3 703.6L632.3 704.2L631.9 701.1L630.4 698.4L633.2 697.1Z"/>
<path d="M643.8 694.3L645.9 696.6L648.7 697.9L647.2 700.6L646.8 703.7L643.8 703.1L640.8 703.7L640.4 700.6L638.9 697.9L641.7 696.6Z"/>
<path d="M650.5 693.3L652.6 695.6L655.4 696.9L653.9 699.6L653.5 702.7L650.5 702.1L647.5 702.7L647.1 699.6L645.6 696.9L648.4 695.6Z"/>
<path d="M657.6 692.4L659.7 694.7L662.5 696.0L661.0 698.7L660.6 701.8L657.6 701.2L654.6 701.8L654.2 698.7L652.7 696.0L655.5 694.7Z"/>
<path d="M669.9 691.7L672.0 694.0L674.8 695.3L673.3 698.0L672.9 701.1L669.9 700.5L666.9 701.1L666.5 698.0L665.0 695.3L667.8 694.0Z"/>
<path d="M681.4 690.9L683.5 693.2L686.3 694.5L684.8 697.2L684.4 700.3L681.4 699.7L678.4 700.3L678.0 697.2L676.5 694.5L679.3 693.2Z"/>
<path d="M692.6 688.1L694.7 690.4L697.5 691.7L696.0 694.4L695.6 697.5L692.6 696.9L689.6 697.5L689.2 694.4L687.7 691.7L690.5 690.4Z"/>
<path d="M702.0 684.8L704.1 687.1L706.9 688.4L705.4 691.1L705.0 694.2L702.0 693.6L699.0 694.2L698.6 691.1L697.1 688.4L699.9 687.1Z"/>
<path d="M712.2 680.4L714.3 682.7L717.1 684.0L715.6 686.7L715.2 689.8L712.2 689.2L709.2 689.8L708.8 686.7L707.3 684.0L710.1 682.7Z"/>
<path d="M723.7 676.2L725.8 678.5L728.6 679.8L727.1 682.5L726.7 685.6L723.7 685.0L720.7 685.6L720.3 682.5L718.8 679.8L721.6 678.5Z"/>
<path d="M731.3 668.9L733.4 671.2L736.2 672.5L734.7 675.2L734.3 678.3L731.3 677.7L728.3 678.3L727.9 675.2L726.4 672.5L729.2 671.2Z"/>
<path d="M742.0 661.7L744.1 664.0L746.9 665.3L745.4 668.0L745.0 671.1L742.0 670.5L739.0 671.1L738.6 668.0L737.1 665.3L739.9 664.0Z"/>
<path d="M751.0 654.4L753.1 656.7L755.9 658.0L754.4 660.7L754.0 663.8L751.0 663.2L748.0 663.8L747.6 660.7L746.1 658.0L748.9 656.7Z"/>
<path d="M760.8 645.5L762.9 647.8L765.7 649.1L764.2 651.8L763.8 654.9L760.8 654.3L757.8 654.9L757.4 651.8L755.9 649.1L758.7 647.8Z"/>
<path d="M771.0 631.0L773.1 633.3L775.9 634.6L774.4 637.3L774.0 640.4L771.0 639.8L768.0 640.4L767.6 637.3L766.1 634.6L768.9 633.3Z"/>
<path d="M783.8 614.8L785.9 617.1L788.7 618.4L787.2 621.1L786.8 624.2L783.8 623.6L780.8 624.2L780.4 621.1L778.9 618.4L781.7 617.1Z"/>
<path d="M794.0 598.4L796.1 600.7L798.9 602.0L797.4 604.7L797.0 607.8L794.0 607.2L791.0 607.8L790.6 604.7L789.1 602.0L791.9 600.7Z"/>
<path d="M806.3 575.8L808.4 578.1L811.2 579.4L809.7 582.1L809.3 585.2L806.3 584.6L803.3 585.2L802.9 582.1L801.4 579.4L804.2 578.1Z"/>
<path d="M821.6 550.3L823.7 552.6L826.5 553.9L825.0 556.6L824.6 559.7L821.6 559.1L818.6 559.7L818.2 556.6L816.7 553.9L819.5 552.6Z"/>
<path d="M844.1 517.6L846.2 519.9L849.0 521.2L847.5 523.9L847.1 527.0L844.1 526.4L841.1 527.0L840.7 523.9L839.2 521.2L842.0 519.9Z"/>
<path d="M863.6 477.8L865.7 480.1L868.5 481.4L867.0 484.1L866.6 487.2L863.6 486.6L860.6 487.2L860.2 484.1L858.7 481.4L861.5 480.1Z"/>
<path d="M882.0 434.8L884.1 437.1L886.9 438.4L885.4 441.1L885.0 444.2L882.0 443.6L879.0 444.2L878.6 441.1L877.1 438.4L879.9 437.1Z"/>
<path d="M901.5 382.8L903.6 385.1L906.4 386.4L904.9 389.1L904.5 392.2L901.5 391.6L898.5 392.2L898.1 389.1L896.6 386.4L899.4 385.1Z"/>
<path d="M921.5 326.4L923.6 328.7L926.4 330.0L924.9 332.7L924.5 335.8L921.5 335.2L918.5 335.8L918.1 332.7L916.6 330.0L919.4 328.7Z"/>
<path d="M951.2 253.0L953.3 255.3L956.1 256.6L954.6 259.3L954.2 262.4L951.2 261.8L948.2 262.4L947.8 259.3L946.3 256.6L949.1 255.3Z"/>
<path d="M980.8 167.0L982.9 169.3L985.7 170.6L984.2 173.3L983.8 176.4L980.8 175.8L977.8 176.4L977.4 173.3L975.9 170.6L978.7 169.3Z"/>
<path d="M1017.0 64.9L1019.1 67.2L1021.9 68.5L1020.4 71.2L1020.0 74.3L1017.0 73.7L1014.0 74.3L1013.6 71.2L1012.1 68.5L1014.9 67.2Z"/>
</g>
<line x1="140.7" y1="954.8" x2="1151.8" y2="954.8" stroke="#2a2a2a" stroke-width="3.6"/>
<line x1="1150.0" y1="954.8" x2="1150.0" y2="1692.3" stroke="#3a3a3a" stroke-width="3.24"/>
<line x1="142.5" y1="953.0" x2="142.5" y2="1694.1" stroke="#1a1a1a" stroke-width="3.6"/>
<line x1="140.7" y1="1692.3" x2="1151.8" y2="1692.3" stroke="#3a3a3a" stroke-width="3.6"/>
<line x1="142.5" y1="1692.3" x2="142.5" y2="1705.8" stroke="#3a3a3a" stroke-width="3.24"/>
<text transform="translate(143.5 1740.3) scale(0.92 1)" text-anchor="middle" class="tk">0</text>
<line x1="394.4" y1="1692.3" x2="394.4" y2="1705.8" stroke="#3a3a3a" stroke-width="3.24"/>
<text transform="translate(395.4 1740.3) scale(0.92 1)" text-anchor="middle" class="tk">200</text>
<line x1="646.2" y1="1692.3" x2="646.2" y2="1705.8" stroke="#3a3a3a" stroke-width="3.24"/>
<text transform="translate(647.2 1740.3) scale(0.92 1)" text-anchor="middle" class="tk">400</text>
<line x1="898.1" y1="1692.3" x2="898.1" y2="1705.8" stroke="#3a3a3a" stroke-width="3.24"/>
<text transform="translate(899.1 1740.3) scale(0.92 1)" text-anchor="middle" class="tk">600</text>
<line x1="1150.0" y1="1692.3" x2="1150.0" y2="1705.8" stroke="#3a3a3a" stroke-width="3.24"/>
<text transform="translate(1151.0 1740.3) scale(0.92 1)" text-anchor="middle" class="tk">800</text>
<line x1="268.4" y1="1692.3" x2="268.4" y2="1699.3" stroke="#3a3a3a" stroke-width="3.24"/>
<line x1="520.3" y1="1692.3" x2="520.3" y2="1699.3" stroke="#3a3a3a" stroke-width="3.24"/>
<line x1="772.2" y1="1692.3" x2="772.2" y2="1699.3" stroke="#3a3a3a" stroke-width="3.24"/>
<line x1="1024.1" y1="1692.3" x2="1024.1" y2="1699.3" stroke="#3a3a3a" stroke-width="3.24"/>
<line x1="142.5" y1="1692.3" x2="127.5" y2="1692.3" stroke="#1a1a1a" stroke-width="3.24"/>
<text transform="translate(117.0 1702.6) scale(0.92 1)" text-anchor="end" class="tk">0</text>
<line x1="142.5" y1="1544.8" x2="127.5" y2="1544.8" stroke="#1a1a1a" stroke-width="3.24"/>
<text transform="translate(117.0 1555.1) scale(0.92 1)" text-anchor="end" class="tk">200</text>
<line x1="142.5" y1="1397.3" x2="127.5" y2="1397.3" stroke="#1a1a1a" stroke-width="3.24"/>
<text transform="translate(117.0 1407.6) scale(0.92 1)" text-anchor="end" class="tk">400</text>
<line x1="142.5" y1="1249.8" x2="127.5" y2="1249.8" stroke="#1a1a1a" stroke-width="3.24"/>
<text transform="translate(117.0 1260.1) scale(0.92 1)" text-anchor="end" class="tk">600</text>
<line x1="142.5" y1="1102.3" x2="127.5" y2="1102.3" stroke="#1a1a1a" stroke-width="3.24"/>
<text transform="translate(117.0 1112.6) scale(0.92 1)" text-anchor="end" class="tk">800</text>
<line x1="142.5" y1="954.8" x2="127.5" y2="954.8" stroke="#1a1a1a" stroke-width="3.24"/>
<text transform="translate(117.0 965.1) scale(0.92 1)" text-anchor="end" class="tk">1000</text>
<line x1="142.5" y1="1618.5" x2="134.5" y2="1618.5" stroke="#1a1a1a" stroke-width="3.24"/>
<line x1="142.5" y1="1471.0" x2="134.5" y2="1471.0" stroke="#1a1a1a" stroke-width="3.24"/>
<line x1="142.5" y1="1323.5" x2="134.5" y2="1323.5" stroke="#1a1a1a" stroke-width="3.24"/>
<line x1="142.5" y1="1176.0" x2="134.5" y2="1176.0" stroke="#1a1a1a" stroke-width="3.24"/>
<line x1="142.5" y1="1028.5" x2="134.5" y2="1028.5" stroke="#1a1a1a" stroke-width="3.24"/>
<text x="588.71" y="1798.50" class="ttl" textLength="116.21" lengthAdjust="spacingAndGlyphs">Z&#39;/Ohm</text>
<text transform="translate(27.30 1343.70) rotate(-90)" class="ttl" textLength="143.38" lengthAdjust="spacingAndGlyphs">-Z&#39;&#39;/Ohm</text>
<rect x="241.5" y="1026.5" width="271" height="202" fill="#fff" stroke="#1e1e1e" stroke-width="2.8"/>
<g fill="#000"><rect x="293.2" y="1050.9" width="8.6" height="8.6"/><circle cx="297.5" cy="1103.7" r="4.4"/><path d="M297.5 1148.0L302.7 1156.7L292.3 1156.7Z"/><path d="M297.5 1195.3L299.8 1197.8L302.9 1199.2L301.3 1202.2L300.9 1205.6L297.5 1205.0L294.1 1205.6L293.7 1202.2L292.1 1199.2L295.2 1197.8Z"/></g>
<text x="354.84" y="1069.00" class="lg" textLength="135.45" lengthAdjust="spacingAndGlyphs">1st cycle</text>
<text x="352.94" y="1116.90" class="lg" textLength="151.10" lengthAdjust="spacingAndGlyphs">2nd cycle</text>
<text x="352.03" y="1165.50" class="lg" textLength="145.44" lengthAdjust="spacingAndGlyphs">3rd cycle</text>
<text x="352.35" y="1213.30" class="lg" textLength="142.20" lengthAdjust="spacingAndGlyphs">5th cycle</text>
<rect x="1027" y="957" width="121" height="121" fill="#fff" stroke="#151515" stroke-width="4.4"/>
<text x="1072.30" y="1040.50" class="big" textLength="28.26" lengthAdjust="spacingAndGlyphs">b</text>
<g fill="#000">
<rect x="138.3" y="1686.5" width="8.4" height="8.4"/>
<rect x="139.3" y="1684.7" width="8.4" height="8.4"/>
<rect x="140.3" y="1682.9" width="8.4" height="8.4"/>
<rect x="141.4" y="1681.1" width="8.4" height="8.4"/>
<rect x="142.7" y="1679.5" width="8.4" height="8.4"/>
<rect x="143.9" y="1678.0" width="8.4" height="8.4"/>
<rect x="145.4" y="1676.5" width="8.4" height="8.4"/>
<rect x="146.9" y="1675.1" width="8.4" height="8.4"/>
<rect x="148.4" y="1673.8" width="8.4" height="8.4"/>
<rect x="150.1" y="1672.5" width="8.4" height="8.4"/>
<rect x="151.8" y="1671.4" width="8.4" height="8.4"/>
<rect x="153.5" y="1670.2" width="8.4" height="8.4"/>
<rect x="155.3" y="1669.1" width="8.4" height="8.4"/>
<rect x="157.1" y="1667.9" width="8.4" height="8.4"/>
<rect x="159.0" y="1666.8" width="8.4" height="8.4"/>
<rect x="160.8" y="1665.6" width="8.4" height="8.4"/>
<rect x="162.5" y="1664.5" width="8.4" height="8.4"/>
<rect x="164.2" y="1663.5" width="8.4" height="8.4"/>
<rect x="166.0" y="1662.2" width="8.4" height="8.4"/>
<rect x="167.9" y="1661.0" width="8.4" height="8.4"/>
<rect x="169.8" y="1659.8" width="8.4" height="8.4"/>
<rect x="171.5" y="1658.7" width="8.4" height="8.4"/>
<rect x="173.2" y="1657.7" width="8.4" height="8.4"/>
<rect x="175.0" y="1656.7" width="8.4" height="8.4"/>
<rect x="176.7" y="1655.6" width="8.4" height="8.4"/>
<rect x="178.6" y="1654.6" width="8.4" height="8.4"/>
<rect x="180.6" y="1653.5" width="8.4" height="8.4"/>
<rect x="182.5" y="1652.5" width="8.4" height="8.4"/>
<rect x="184.4" y="1651.5" width="8.4" height="8.4"/>
<rect x="186.4" y="1650.5" width="8.4" height="8.4"/>
<rect x="188.3" y="1649.6" width="8.4" height="8.4"/>
<rect x="190.2" y="1648.8" width="8.4" height="8.4"/>
<rect x="192.1" y="1648.0" width="8.4" height="8.4"/>
<rect x="194.0" y="1647.2" width="8.4" height="8.4"/>
<rect x="195.9" y="1646.3" width="8.4" height="8.4"/>
<rect x="197.9" y="1645.5" width="8.4" height="8.4"/>
<rect x="199.8" y="1644.6" width="8.4" height="8.4"/>
<rect x="201.7" y="1643.8" width="8.4" height="8.4"/>
<rect x="203.6" y="1643.0" width="8.4" height="8.4"/>
<rect x="205.5" y="1642.2" width="8.4" height="8.4"/>
<rect x="207.4" y="1641.4" width="8.4" height="8.4"/>
<rect x="209.3" y="1640.6" width="8.4" height="8.4"/>
<rect x="211.2" y="1639.8" width="8.4" height="8.4"/>
<rect x="213.2" y="1639.1" width="8.4" height="8.4"/>
<rect x="215.1" y="1638.3" width="8.4" height="8.4"/>
<rect x="217.0" y="1637.6" width="8.4" height="8.4"/>
<rect x="219.0" y="1637.0" width="8.4" height="8.4"/>
<rect x="220.9" y="1636.3" width="8.4" height="8.4"/>
<rect x="223.0" y="1635.6" width="8.4" height="8.4"/>
<rect x="225.1" y="1634.9" width="8.4" height="8.4"/>
<rect x="227.2" y="1634.3" width="8.4" height="8.4"/>
<rect x="229.2" y="1633.7" width="8.4" height="8.4"/>
<rect x="231.3" y="1633.0" width="8.4" height="8.4"/>
<rect x="233.4" y="1632.4" width="8.4" height="8.4"/>
<rect x="235.4" y="1631.8" width="8.4" height="8.4"/>
<rect x="237.5" y="1631.1" width="8.4" height="8.4"/>
<rect x="239.5" y="1630.6" width="8.4" height="8.4"/>
<rect x="241.7" y="1630.0" width="8.4" height="8.4"/>
<rect x="243.7" y="1629.5" width="8.4" height="8.4"/>
<rect x="245.9" y="1628.9" width="8.4" height="8.4"/>
<rect x="248.0" y="1628.4" width="8.4" height="8.4"/>
<rect x="250.2" y="1627.9" width="8.4" height="8.4"/>
<rect x="252.4" y="1627.5" width="8.4" height="8.4"/>
<rect x="254.5" y="1627.1" width="8.4" height="8.4"/>
<rect x="256.6" y="1626.8" width="8.4" height="8.4"/>
<rect x="258.7" y="1626.5" width="8.4" height="8.4"/>
<rect x="260.8" y="1626.3" width="8.4" height="8.4"/>
<rect x="262.9" y="1626.1" width="8.4" height="8.4"/>
<rect x="265.0" y="1626.0" width="8.4" height="8.4"/>
<rect x="267.1" y="1625.9" width="8.4" height="8.4"/>
<rect x="269.2" y="1625.7" width="8.4" height="8.4"/>
<rect x="271.5" y="1625.6" width="8.4" height="8.4"/>
<rect x="273.8" y="1625.6" width="8.4" height="8.4"/>
<rect x="276.0" y="1625.5" width="8.4" height="8.4"/>
<rect x="278.1" y="1625.5" width="8.4" height="8.4"/>
<rect x="280.4" y="1625.5" width="8.4" height="8.4"/>
<rect x="282.6" y="1625.5" width="8.4" height="8.4"/>
<rect x="284.6" y="1625.6" width="8.4" height="8.4"/>
<rect x="286.7" y="1625.7" width="8.4" height="8.4"/>
<rect x="288.7" y="1625.8" width="8.4" height="8.4"/>
<rect x="415.2" y="1631.2" width="8.4" height="8.4"/>
<rect x="417.6" y="1631.8" width="8.4" height="8.4"/>
<rect x="420.0" y="1632.4" width="8.4" height="8.4"/>
<rect x="422.5" y="1633.0" width="8.4" height="8.4"/>
<rect x="424.9" y="1633.5" width="8.4" height="8.4"/>
<rect x="427.4" y="1633.9" width="8.4" height="8.4"/>
<rect x="429.9" y="1634.3" width="8.4" height="8.4"/>
<rect x="432.4" y="1634.6" width="8.4" height="8.4"/>
<rect x="435.0" y="1635.0" width="8.4" height="8.4"/>
<rect x="437.6" y="1635.4" width="8.4" height="8.4"/>
<rect x="440.2" y="1635.7" width="8.4" height="8.4"/>
<rect x="442.7" y="1636.0" width="8.4" height="8.4"/>
<rect x="445.3" y="1636.2" width="8.4" height="8.4"/>
<rect x="447.8" y="1636.3" width="8.4" height="8.4"/>
<rect x="450.4" y="1636.3" width="8.4" height="8.4"/>
<rect x="452.9" y="1636.4" width="8.4" height="8.4"/>
<rect x="455.5" y="1636.4" width="8.4" height="8.4"/>
<rect x="458.0" y="1636.3" width="8.4" height="8.4"/>
<rect x="460.5" y="1636.3" width="8.4" height="8.4"/>
<rect x="463.1" y="1636.2" width="8.4" height="8.4"/>
<rect x="465.6" y="1635.9" width="8.4" height="8.4"/>
<rect x="468.1" y="1635.4" width="8.4" height="8.4"/>
<rect x="470.5" y="1634.7" width="8.4" height="8.4"/>
<rect x="472.9" y="1633.9" width="8.4" height="8.4"/>
<rect x="475.3" y="1633.0" width="8.4" height="8.4"/>
<rect x="477.8" y="1632.1" width="8.4" height="8.4"/>
<rect x="480.0" y="1631.2" width="8.4" height="8.4"/>
<rect x="482.3" y="1630.3" width="8.4" height="8.4"/>
<rect x="484.6" y="1629.3" width="8.4" height="8.4"/>
<rect x="486.8" y="1628.4" width="8.4" height="8.4"/>
<rect x="489.1" y="1627.5" width="8.4" height="8.4"/>
<rect x="491.3" y="1626.6" width="8.4" height="8.4"/>
<rect x="493.6" y="1625.7" width="8.4" height="8.4"/>
<rect x="495.8" y="1624.8" width="8.4" height="8.4"/>
<rect x="498.3" y="1623.7" width="8.4" height="8.4"/>
<rect x="500.6" y="1622.7" width="8.4" height="8.4"/>
<rect x="502.8" y="1621.7" width="8.4" height="8.4"/>
<rect x="505.0" y="1620.7" width="8.4" height="8.4"/>
<rect x="515.4" y="1615.3" width="9.3" height="9.3"/>
<rect x="526.0" y="1610.6" width="9.3" height="9.3"/>
<rect x="537.4" y="1605.3" width="9.3" height="9.3"/>
<rect x="549.8" y="1599.1" width="9.3" height="9.3"/>
<rect x="304.2" y="1616.9" width="9.3" height="9.3"/>
<rect x="321.4" y="1616.8" width="9.3" height="9.3"/>
<rect x="339.2" y="1618.1" width="9.3" height="9.3"/>
<rect x="356.8" y="1619.6" width="9.3" height="9.3"/>
<rect x="373.8" y="1622.3" width="9.3" height="9.3"/>
<rect x="388.4" y="1624.8" width="9.3" height="9.3"/>
<rect x="402.8" y="1628.2" width="9.3" height="9.3"/>
<rect x="561.1" y="1585.3" width="9.3" height="9.3"/>
<rect x="572.6" y="1571.0" width="9.3" height="9.3"/>
<rect x="585.8" y="1552.9" width="9.3" height="9.3"/>
<rect x="596.9" y="1531.6" width="9.3" height="9.3"/>
<rect x="610.6" y="1505.2" width="9.3" height="9.3"/>
<rect x="623.4" y="1475.3" width="9.3" height="9.3"/>
<rect x="637.6" y="1441.9" width="9.3" height="9.3"/>
<rect x="654.4" y="1400.3" width="9.3" height="9.3"/>
<rect x="670.1" y="1355.3" width="9.3" height="9.3"/>
<rect x="691.1" y="1301.9" width="9.3" height="9.3"/>
<rect x="715.6" y="1240.0" width="9.3" height="9.3"/>
<rect x="745.1" y="1168.1" width="9.3" height="9.3"/>
<rect x="783.4" y="1085.3" width="9.3" height="9.3"/>
<rect x="830.5" y="987.4" width="9.3" height="9.3"/>
<circle cx="142.5" cy="1692.0" r="4.1"/>
<circle cx="143.5" cy="1690.2" r="4.1"/>
<circle cx="144.5" cy="1688.3" r="4.1"/>
<circle cx="145.6" cy="1686.6" r="4.1"/>
<circle cx="146.8" cy="1685.0" r="4.1"/>
<circle cx="148.1" cy="1683.4" r="4.1"/>
<circle cx="149.6" cy="1681.9" r="4.1"/>
<circle cx="151.0" cy="1680.5" r="4.1"/>
<circle cx="152.6" cy="1679.2" r="4.1"/>
<circle cx="154.3" cy="1677.9" r="4.1"/>
<circle cx="156.0" cy="1676.7" r="4.1"/>
<circle cx="157.7" cy="1675.5" r="4.1"/>
<circle cx="159.5" cy="1674.4" r="4.1"/>
<circle cx="161.3" cy="1673.2" r="4.1"/>
<circle cx="163.1" cy="1672.1" r="4.1"/>
<circle cx="165.0" cy="1670.9" r="4.1"/>
<circle cx="166.7" cy="1669.8" r="4.1"/>
<circle cx="168.3" cy="1668.7" r="4.1"/>
<circle cx="170.0" cy="1667.6" r="4.1"/>
<circle cx="171.7" cy="1666.5" r="4.1"/>
<circle cx="173.4" cy="1665.4" r="4.1"/>
<circle cx="175.1" cy="1664.3" r="4.1"/>
<circle cx="176.8" cy="1663.3" r="4.1"/>
<circle cx="178.5" cy="1662.2" r="4.1"/>
<circle cx="180.2" cy="1661.2" r="4.1"/>
<circle cx="182.2" cy="1660.0" r="4.1"/>
<circle cx="184.1" cy="1659.0" r="4.1"/>
<circle cx="186.0" cy="1657.9" r="4.1"/>
<circle cx="188.0" cy="1656.9" r="4.1"/>
<circle cx="189.9" cy="1655.9" r="4.1"/>
<circle cx="191.8" cy="1655.0" r="4.1"/>
<circle cx="193.8" cy="1654.1" r="4.1"/>
<circle cx="195.7" cy="1653.3" r="4.1"/>
<circle cx="197.6" cy="1652.4" r="4.1"/>
<circle cx="199.5" cy="1651.6" r="4.1"/>
<circle cx="201.4" cy="1650.8" r="4.1"/>
<circle cx="203.3" cy="1649.9" r="4.1"/>
<circle cx="205.2" cy="1649.1" r="4.1"/>
<circle cx="207.1" cy="1648.3" r="4.1"/>
<circle cx="209.0" cy="1647.4" r="4.1"/>
<circle cx="211.0" cy="1646.6" r="4.1"/>
<circle cx="212.9" cy="1645.8" r="4.1"/>
<circle cx="214.8" cy="1645.1" r="4.1"/>
<circle cx="216.7" cy="1644.3" r="4.1"/>
<circle cx="218.6" cy="1643.6" r="4.1"/>
<circle cx="220.6" cy="1642.9" r="4.1"/>
<circle cx="222.5" cy="1642.2" r="4.1"/>
<circle cx="224.4" cy="1641.5" r="4.1"/>
<circle cx="226.4" cy="1640.8" r="4.1"/>
<circle cx="228.4" cy="1640.2" r="4.1"/>
<circle cx="230.5" cy="1639.5" r="4.1"/>
<circle cx="232.4" cy="1638.9" r="4.1"/>
<circle cx="234.5" cy="1638.3" r="4.1"/>
<circle cx="236.6" cy="1637.6" r="4.1"/>
<circle cx="238.6" cy="1637.0" r="4.1"/>
<circle cx="240.6" cy="1636.4" r="4.1"/>
<circle cx="242.8" cy="1635.8" r="4.1"/>
<circle cx="244.9" cy="1635.3" r="4.1"/>
<circle cx="246.9" cy="1634.7" r="4.1"/>
<circle cx="249.0" cy="1634.2" r="4.1"/>
<circle cx="251.1" cy="1633.7" r="4.1"/>
<circle cx="253.3" cy="1633.1" r="4.1"/>
<circle cx="255.5" cy="1632.7" r="4.1"/>
<circle cx="257.6" cy="1632.3" r="4.1"/>
<circle cx="259.8" cy="1631.9" r="4.1"/>
<circle cx="261.9" cy="1631.6" r="4.1"/>
<circle cx="263.9" cy="1631.4" r="4.1"/>
<circle cx="266.1" cy="1631.2" r="4.1"/>
<circle cx="268.1" cy="1631.1" r="4.1"/>
<circle cx="270.2" cy="1630.9" r="4.1"/>
<circle cx="272.4" cy="1630.8" r="4.1"/>
<circle cx="274.4" cy="1630.7" r="4.1"/>
<circle cx="276.6" cy="1630.6" r="4.1"/>
<circle cx="278.6" cy="1630.5" r="4.1"/>
<circle cx="280.8" cy="1630.5" r="4.1"/>
<circle cx="282.9" cy="1630.5" r="4.1"/>
<circle cx="284.9" cy="1630.5" r="4.1"/>
<circle cx="287.0" cy="1630.5" r="4.1"/>
<circle cx="289.1" cy="1630.6" r="4.1"/>
<circle cx="291.2" cy="1630.8" r="4.1"/>
<circle cx="293.2" cy="1630.9" r="4.1"/>
<circle cx="295.3" cy="1631.1" r="4.1"/>
<circle cx="297.4" cy="1631.3" r="4.1"/>
<circle cx="299.6" cy="1631.5" r="4.1"/>
<circle cx="301.9" cy="1631.7" r="4.1"/>
<circle cx="304.2" cy="1631.8" r="4.1"/>
<circle cx="306.6" cy="1632.1" r="4.1"/>
<circle cx="308.6" cy="1632.2" r="4.1"/>
<circle cx="310.6" cy="1632.4" r="4.1"/>
<circle cx="312.6" cy="1632.6" r="4.1"/>
<circle cx="314.7" cy="1632.9" r="4.1"/>
<circle cx="316.9" cy="1633.1" r="4.1"/>
<circle cx="319.0" cy="1633.4" r="4.1"/>
<circle cx="321.3" cy="1633.6" r="4.1"/>
<circle cx="323.6" cy="1633.9" r="4.1"/>
<circle cx="325.9" cy="1634.2" r="4.1"/>
<circle cx="328.2" cy="1634.5" r="4.1"/>
<circle cx="330.4" cy="1634.9" r="4.1"/>
<circle cx="332.7" cy="1635.2" r="4.1"/>
<circle cx="334.9" cy="1635.7" r="4.1"/>
<circle cx="337.0" cy="1636.2" r="4.1"/>
<circle cx="339.2" cy="1636.7" r="4.1"/>
<circle cx="341.3" cy="1637.2" r="4.1"/>
<circle cx="343.4" cy="1637.8" r="4.1"/>
<circle cx="345.5" cy="1638.4" r="4.1"/>
<circle cx="347.6" cy="1639.0" r="4.1"/>
<circle cx="349.7" cy="1639.6" r="4.1"/>
<circle cx="351.9" cy="1640.2" r="4.1"/>
<circle cx="354.0" cy="1640.8" r="4.1"/>
<circle cx="356.1" cy="1641.4" r="4.1"/>
<circle cx="358.2" cy="1642.0" r="4.1"/>
<circle cx="360.4" cy="1642.6" r="4.1"/>
<circle cx="362.5" cy="1643.2" r="4.1"/>
<circle cx="364.6" cy="1643.9" r="4.1"/>
<circle cx="366.7" cy="1644.6" r="4.1"/>
<circle cx="368.9" cy="1645.3" r="4.1"/>
<circle cx="371.0" cy="1646.1" r="4.1"/>
<circle cx="373.1" cy="1646.9" r="4.1"/>
<circle cx="375.2" cy="1647.8" r="4.1"/>
<circle cx="377.4" cy="1648.6" r="4.1"/>
<circle cx="379.5" cy="1649.5" r="4.1"/>
<circle cx="381.6" cy="1650.4" r="4.1"/>
<circle cx="383.7" cy="1651.1" r="4.1"/>
<circle cx="385.9" cy="1651.9" r="4.1"/>
<circle cx="388.0" cy="1652.6" r="4.1"/>
<circle cx="390.2" cy="1653.3" r="4.1"/>
<circle cx="392.4" cy="1654.0" r="4.1"/>
<circle cx="394.6" cy="1654.6" r="4.1"/>
<circle cx="396.8" cy="1655.2" r="4.1"/>
<circle cx="398.9" cy="1655.8" r="4.1"/>
<circle cx="400.9" cy="1656.4" r="4.1"/>
<circle cx="403.1" cy="1657.0" r="4.1"/>
<circle cx="405.3" cy="1657.7" r="4.1"/>
<circle cx="407.3" cy="1658.3" r="4.1"/>
<circle cx="409.3" cy="1658.8" r="4.1"/>
<circle cx="411.4" cy="1659.5" r="4.1"/>
<circle cx="413.5" cy="1660.0" r="4.1"/>
<circle cx="415.6" cy="1660.4" r="4.1"/>
<circle cx="417.7" cy="1660.8" r="4.1"/>
<circle cx="419.9" cy="1661.1" r="4.1"/>
<circle cx="422.0" cy="1661.3" r="4.1"/>
<circle cx="424.2" cy="1661.3" r="4.1"/>
<circle cx="426.3" cy="1661.3" r="4.1"/>
<circle cx="428.5" cy="1661.1" r="4.1"/>
<circle cx="430.7" cy="1660.9" r="4.1"/>
<circle cx="432.9" cy="1660.6" r="4.1"/>
<circle cx="435.2" cy="1660.2" r="4.1"/>
<circle cx="437.4" cy="1659.7" r="4.1"/>
<circle cx="439.6" cy="1659.1" r="4.1"/>
<circle cx="441.5" cy="1658.5" r="4.1"/>
<circle cx="443.4" cy="1657.8" r="4.1"/>
<circle cx="445.4" cy="1657.1" r="4.1"/>
<circle cx="447.3" cy="1656.4" r="4.1"/>
<circle cx="449.2" cy="1655.6" r="4.1"/>
<circle cx="451.1" cy="1654.8" r="4.1"/>
<circle cx="453.0" cy="1653.9" r="4.1"/>
<circle cx="454.9" cy="1653.0" r="4.1"/>
<circle cx="456.9" cy="1652.0" r="4.1"/>
<circle cx="458.9" cy="1651.1" r="4.1"/>
<circle cx="460.9" cy="1650.1" r="4.1"/>
<circle cx="462.7" cy="1649.1" r="4.1"/>
<circle cx="464.5" cy="1648.2" r="4.1"/>
<circle cx="466.4" cy="1647.3" r="4.1"/>
<circle cx="468.2" cy="1646.4" r="4.1"/>
<circle cx="470.0" cy="1645.5" r="4.1"/>
<circle cx="472.1" cy="1644.5" r="4.1"/>
<circle cx="474.2" cy="1643.6" r="4.1"/>
<circle cx="476.4" cy="1642.7" r="4.1"/>
<circle cx="478.5" cy="1641.8" r="4.1"/>
<circle cx="480.5" cy="1640.8" r="4.1"/>
<circle cx="482.6" cy="1639.6" r="4.1"/>
<circle cx="484.4" cy="1638.4" r="4.1"/>
<circle cx="486.4" cy="1637.1" r="4.1"/>
<circle cx="488.2" cy="1635.7" r="4.1"/>
<circle cx="490.0" cy="1634.3" r="4.1"/>
<circle cx="491.7" cy="1633.0" r="4.1"/>
<circle cx="493.0" cy="1632.0" r="4.1"/>
<circle cx="502.0" cy="1623.5" r="4.6"/>
<circle cx="510.5" cy="1614.0" r="4.6"/>
<circle cx="517.6" cy="1602.2" r="4.6"/>
<circle cx="525.3" cy="1589.2" r="4.6"/>
<circle cx="536.7" cy="1573.0" r="4.6"/>
<circle cx="545.1" cy="1553.6" r="4.6"/>
<circle cx="555.5" cy="1530.4" r="4.6"/>
<circle cx="565.7" cy="1503.9" r="4.6"/>
<circle cx="576.8" cy="1471.5" r="4.6"/>
<circle cx="589.1" cy="1434.1" r="4.6"/>
<circle cx="605.3" cy="1391.0" r="4.6"/>
<circle cx="624.4" cy="1338.5" r="4.6"/>
<circle cx="646.0" cy="1277.0" r="4.6"/>
<circle cx="672.4" cy="1203.3" r="4.6"/>
<circle cx="706.3" cy="1117.6" r="4.6"/>
<circle cx="745.0" cy="1011.3" r="4.6"/>
<path d="M142.5 1690.0L147.3 1698.0L137.7 1698.0Z"/>
<path d="M143.5 1688.0L148.4 1696.0L138.7 1696.0Z"/>
<path d="M144.6 1686.0L149.5 1694.0L139.8 1694.0Z"/>
<path d="M145.9 1684.2L150.7 1692.2L141.0 1692.2Z"/>
<path d="M147.3 1682.3L152.1 1690.3L142.5 1690.3Z"/>
<path d="M148.8 1680.6L153.6 1688.6L144.0 1688.6Z"/>
<path d="M150.4 1678.9L155.3 1686.9L145.6 1686.9Z"/>
<path d="M152.2 1677.4L157.0 1685.4L147.4 1685.4Z"/>
<path d="M154.0 1675.9L158.8 1683.9L149.1 1683.9Z"/>
<path d="M155.8 1674.6L160.7 1682.6L151.0 1682.6Z"/>
<path d="M157.7 1673.3L162.5 1681.3L152.9 1681.3Z"/>
<path d="M159.7 1671.9L164.5 1679.9L154.9 1679.9Z"/>
<path d="M161.7 1670.6L166.6 1678.6L156.9 1678.6Z"/>
<path d="M163.6 1669.4L168.4 1677.4L158.8 1677.4Z"/>
<path d="M165.6 1668.1L170.4 1676.1L160.8 1676.1Z"/>
<path d="M167.5 1666.8L172.3 1674.8L162.7 1674.8Z"/>
<path d="M169.4 1665.6L174.2 1673.5L164.6 1673.5Z"/>
<path d="M171.3 1664.3L176.1 1672.3L166.4 1672.3Z"/>
<path d="M173.2 1663.0L178.0 1671.0L168.3 1671.0Z"/>
<path d="M175.1 1661.8L179.9 1669.8L170.2 1669.8Z"/>
<path d="M177.0 1660.5L181.8 1668.5L172.2 1668.5Z"/>
<path d="M178.9 1659.3L183.8 1667.3L174.1 1667.3Z"/>
<path d="M180.9 1658.1L185.7 1666.1L176.0 1666.1Z"/>
<path d="M182.8 1657.0L187.6 1665.0L178.0 1665.0Z"/>
<path d="M184.8 1655.9L189.6 1663.9L179.9 1663.9Z"/>
<path d="M186.7 1654.8L191.5 1662.8L181.9 1662.8Z"/>
<path d="M188.8 1653.7L193.7 1661.7L184.0 1661.7Z"/>
<path d="M191.0 1652.6L195.8 1660.6L186.2 1660.6Z"/>
<path d="M193.1 1651.5L197.9 1659.5L188.3 1659.5Z"/>
<path d="M195.2 1650.5L200.1 1658.5L190.4 1658.5Z"/>
<path d="M197.4 1649.6L202.2 1657.6L192.5 1657.6Z"/>
<path d="M199.5 1648.6L204.3 1656.6L194.7 1656.6Z"/>
<path d="M201.6 1647.7L206.4 1655.7L196.8 1655.7Z"/>
<path d="M203.7 1646.7L208.6 1654.7L198.9 1654.7Z"/>
<path d="M205.9 1645.8L210.7 1653.8L201.0 1653.8Z"/>
<path d="M208.0 1644.9L212.8 1652.9L203.2 1652.9Z"/>
<path d="M210.1 1644.0L214.9 1652.0L205.3 1652.0Z"/>
<path d="M212.2 1643.1L217.1 1651.1L207.4 1651.1Z"/>
<path d="M214.4 1642.3L219.2 1650.3L209.5 1650.3Z"/>
<path d="M216.5 1641.4L221.3 1649.4L211.7 1649.4Z"/>
<path d="M218.6 1640.6L223.5 1648.6L213.8 1648.6Z"/>
<path d="M220.8 1639.8L225.6 1647.8L216.0 1647.8Z"/>
<path d="M222.9 1639.0L227.8 1647.0L218.1 1647.0Z"/>
<path d="M225.1 1638.3L229.9 1646.3L220.3 1646.3Z"/>
<path d="M227.2 1637.6L232.0 1645.6L222.4 1645.6Z"/>
<path d="M229.5 1636.9L234.3 1644.9L224.6 1644.9Z"/>
<path d="M231.6 1636.2L236.4 1644.2L226.7 1644.2Z"/>
<path d="M233.8 1635.5L238.6 1643.5L229.0 1643.5Z"/>
<path d="M235.9 1634.9L240.7 1642.9L231.1 1642.9Z"/>
<path d="M238.1 1634.2L242.9 1642.2L233.2 1642.2Z"/>
<path d="M240.3 1633.5L245.2 1641.5L235.5 1641.5Z"/>
<path d="M242.5 1632.9L247.4 1640.9L237.7 1640.9Z"/>
<path d="M244.9 1632.3L249.8 1640.3L240.1 1640.3Z"/>
<path d="M247.2 1631.7L252.1 1639.7L242.4 1639.7Z"/>
<path d="M249.7 1631.1L254.5 1639.0L244.9 1639.0Z"/>
<path d="M251.9 1630.5L256.7 1638.5L247.0 1638.5Z"/>
<path d="M254.0 1630.0L258.9 1638.0L249.2 1638.0Z"/>
<path d="M256.2 1629.6L261.1 1637.5L251.4 1637.5Z"/>
<path d="M258.7 1629.1L263.5 1637.1L253.9 1637.1Z"/>
<path d="M261.1 1628.8L266.0 1636.8L256.3 1636.8Z"/>
<path d="M263.6 1628.5L268.4 1636.5L258.8 1636.5Z"/>
<path d="M266.1 1628.3L270.9 1636.2L261.2 1636.2Z"/>
<path d="M268.5 1628.1L273.3 1636.1L263.7 1636.1Z"/>
<path d="M270.9 1627.9L275.8 1635.9L266.1 1635.9Z"/>
<path d="M273.4 1627.8L278.2 1635.7L268.6 1635.7Z"/>
<path d="M275.9 1627.6L280.7 1635.6L271.0 1635.6Z"/>
<path d="M278.3 1627.5L283.1 1635.5L273.5 1635.5Z"/>
<path d="M280.8 1627.5L285.6 1635.5L275.9 1635.5Z"/>
<path d="M283.2 1627.5L288.0 1635.5L278.4 1635.5Z"/>
<path d="M285.6 1627.5L290.5 1635.5L280.8 1635.5Z"/>
<path d="M288.1 1627.6L292.9 1635.6L283.3 1635.6Z"/>
<path d="M290.5 1627.7L295.3 1635.7L285.6 1635.7Z"/>
<path d="M292.9 1627.9L297.7 1635.9L288.0 1635.9Z"/>
<path d="M295.3 1628.1L300.1 1636.1L290.5 1636.1Z"/>
<path d="M297.8 1628.3L302.6 1636.3L293.0 1636.3Z"/>
<path d="M300.0 1628.5L304.8 1636.5L295.2 1636.5Z"/>
<path d="M302.3 1628.7L307.1 1636.7L297.4 1636.7Z"/>
<path d="M304.6 1628.9L309.4 1636.9L299.8 1636.9Z"/>
<path d="M307.0 1629.1L311.8 1637.1L302.1 1637.1Z"/>
<path d="M309.4 1629.3L314.2 1637.3L304.5 1637.3Z"/>
<path d="M311.8 1629.6L316.6 1637.6L307.0 1637.6Z"/>
<path d="M314.3 1629.8L319.1 1637.8L309.5 1637.8Z"/>
<path d="M316.9 1630.1L321.7 1638.1L312.0 1638.1Z"/>
<path d="M319.0 1630.4L323.9 1638.4L314.2 1638.4Z"/>
<path d="M321.3 1630.6L326.1 1638.6L316.5 1638.6Z"/>
<path d="M323.6 1630.9L328.4 1638.9L318.7 1638.9Z"/>
<path d="M325.9 1631.2L330.7 1639.2L321.0 1639.2Z"/>
<path d="M328.2 1631.5L333.0 1639.5L323.3 1639.5Z"/>
<path d="M330.4 1631.9L335.3 1639.9L325.6 1639.9Z"/>
<path d="M332.7 1632.3L337.5 1640.3L327.8 1640.3Z"/>
<path d="M334.9 1632.7L339.7 1640.7L330.0 1640.7Z"/>
<path d="M337.0 1633.2L341.9 1641.2L332.2 1641.2Z"/>
<path d="M339.2 1633.7L344.0 1641.7L334.3 1641.7Z"/>
<path d="M341.7 1634.4L346.5 1642.4L336.9 1642.4Z"/>
<path d="M344.2 1635.1L349.1 1643.1L339.4 1643.1Z"/>
<path d="M346.8 1635.8L351.6 1643.8L341.9 1643.8Z"/>
<path d="M349.3 1636.6L354.1 1644.5L344.5 1644.5Z"/>
<path d="M351.4 1637.2L356.3 1645.1L346.6 1645.1Z"/>
<path d="M353.6 1637.7L358.4 1645.7L348.7 1645.7Z"/>
<path d="M355.7 1638.3L360.5 1646.3L350.8 1646.3Z"/>
<path d="M357.8 1638.9L362.6 1646.9L353.0 1646.9Z"/>
<path d="M359.9 1639.5L364.8 1647.5L355.1 1647.5Z"/>
<path d="M362.1 1640.1L366.9 1648.1L357.2 1648.1Z"/>
<path d="M364.2 1640.8L369.0 1648.8L359.3 1648.8Z"/>
<path d="M366.3 1641.5L371.1 1649.5L361.5 1649.5Z"/>
<path d="M368.4 1642.2L373.3 1650.2L363.6 1650.2Z"/>
<path d="M370.6 1642.9L375.4 1650.9L365.7 1650.9Z"/>
<path d="M372.7 1643.8L377.5 1651.8L367.8 1651.8Z"/>
<path d="M374.8 1644.6L379.6 1652.6L370.0 1652.6Z"/>
<path d="M376.9 1645.5L381.8 1653.5L372.1 1653.5Z"/>
<path d="M379.1 1646.4L383.9 1654.4L374.2 1654.4Z"/>
<path d="M381.2 1647.2L386.0 1655.2L376.3 1655.2Z"/>
<path d="M383.3 1648.0L388.1 1656.0L378.5 1656.0Z"/>
<path d="M385.4 1648.8L390.3 1656.8L380.6 1656.8Z"/>
<path d="M387.6 1649.5L392.4 1657.5L382.8 1657.5Z"/>
<path d="M389.8 1650.2L394.6 1658.2L385.0 1658.2Z"/>
<path d="M392.0 1650.9L396.8 1658.8L387.2 1658.8Z"/>
<path d="M394.2 1651.5L399.0 1659.5L389.4 1659.5Z"/>
<path d="M396.3 1652.1L401.2 1660.1L391.5 1660.1Z"/>
<path d="M398.9 1652.8L403.7 1660.8L394.0 1660.8Z"/>
<path d="M401.2 1653.5L406.1 1661.5L396.4 1661.5Z"/>
<path d="M403.5 1654.2L408.3 1662.2L398.6 1662.2Z"/>
<path d="M405.6 1654.8L410.4 1662.8L400.8 1662.8Z"/>
<path d="M408.0 1655.5L412.8 1663.5L403.1 1663.5Z"/>
<path d="M410.2 1656.2L415.0 1664.1L405.4 1664.1Z"/>
<path d="M412.4 1656.7L417.2 1664.7L407.5 1664.7Z"/>
<path d="M414.7 1657.3L419.5 1665.3L409.9 1665.3Z"/>
<path d="M416.9 1657.7L421.7 1665.7L412.1 1665.7Z"/>
<path d="M419.2 1658.0L424.0 1666.0L414.3 1666.0Z"/>
<path d="M421.5 1658.3L426.4 1666.2L416.7 1666.2Z"/>
<path d="M424.0 1658.3L428.8 1666.3L419.1 1666.3Z"/>
<path d="M426.3 1658.3L431.2 1666.3L421.5 1666.3Z"/>
<path d="M428.8 1658.1L433.6 1666.1L423.9 1666.1Z"/>
<path d="M431.0 1657.9L435.8 1665.9L426.2 1665.9Z"/>
<path d="M433.2 1657.6L438.1 1665.6L428.4 1665.6Z"/>
<path d="M435.4 1657.1L440.3 1665.1L430.6 1665.1Z"/>
<path d="M437.6 1656.6L442.5 1664.6L432.8 1664.6Z"/>
<path d="M439.9 1656.0L444.7 1664.0L435.0 1664.0Z"/>
<path d="M442.1 1655.3L446.9 1663.3L437.2 1663.3Z"/>
<path d="M444.2 1654.6L449.1 1662.6L439.4 1662.6Z"/>
<path d="M446.4 1653.7L451.3 1661.7L441.6 1661.7Z"/>
<path d="M448.6 1652.9L453.5 1660.9L443.8 1660.9Z"/>
<path d="M450.8 1651.9L455.6 1659.9L446.0 1659.9Z"/>
<path d="M453.0 1650.9L457.8 1658.9L448.2 1658.9Z"/>
<path d="M455.2 1649.9L460.0 1657.9L450.3 1657.9Z"/>
<path d="M457.4 1648.8L462.3 1656.8L452.6 1656.8Z"/>
<path d="M459.5 1647.8L464.3 1655.8L454.6 1655.8Z"/>
<path d="M461.6 1646.9L466.4 1654.9L456.7 1654.9Z"/>
<path d="M463.7 1645.9L468.5 1653.9L458.9 1653.9Z"/>
<path d="M465.8 1644.9L470.7 1652.9L461.0 1652.9Z"/>
<path d="M467.9 1643.7L472.8 1651.7L463.1 1651.7Z"/>
<path d="M470.0 1642.5L474.8 1650.5L465.2 1650.5Z"/>
<path d="M472.0 1641.2L476.8 1649.2L467.2 1649.2Z"/>
<path d="M474.0 1639.7L478.8 1647.7L469.2 1647.7Z"/>
<path d="M476.0 1638.1L480.8 1646.1L471.1 1646.1Z"/>
<path d="M477.9 1636.5L482.7 1644.5L473.0 1644.5Z"/>
<path d="M479.7 1635.0L484.6 1643.0L474.9 1643.0Z"/>
<path d="M481.5 1633.5L486.3 1641.5L476.7 1641.5Z"/>
<path d="M483.4 1632.0L488.2 1640.0L478.6 1640.0Z"/>
<path d="M485.2 1630.6L490.1 1638.6L480.4 1638.6Z"/>
<path d="M487.0 1629.2L491.8 1637.2L482.2 1637.2Z"/>
<path d="M488.7 1627.7L493.6 1635.7L483.9 1635.7Z"/>
<path d="M490.4 1626.0L495.3 1634.0L485.6 1634.0Z"/>
<path d="M492.0 1624.2L496.9 1632.1L487.2 1632.1Z"/>
<path d="M493.4 1622.4L498.3 1630.4L488.6 1630.4Z"/>
<path d="M494.8 1620.7L499.6 1628.7L490.0 1628.7Z"/>
<path d="M496.2 1618.8L501.0 1626.8L491.4 1626.8Z"/>
<path d="M497.7 1616.9L502.5 1624.9L492.8 1624.9Z"/>
<path d="M505.0 1604.1L510.3 1613.0L499.7 1613.0Z"/>
<path d="M513.0 1591.9L518.3 1600.8L507.7 1600.8Z"/>
<path d="M520.6 1576.4L525.9 1585.3L515.3 1585.3Z"/>
<path d="M529.7 1556.9L535.0 1565.8L524.4 1565.8Z"/>
<path d="M538.8 1536.4L544.1 1545.3L533.5 1545.3Z"/>
<path d="M547.8 1509.1L553.1 1518.0L542.5 1518.0Z"/>
<path d="M558.0 1479.2L563.3 1488.1L552.7 1488.1Z"/>
<path d="M569.5 1443.3L574.8 1452.2L564.2 1452.2Z"/>
<path d="M584.1 1399.9L589.4 1408.8L578.8 1408.8Z"/>
<path d="M601.0 1351.2L606.3 1360.1L595.7 1360.1Z"/>
<path d="M620.6 1288.5L625.9 1297.4L615.3 1297.4Z"/>
<path d="M644.5 1217.5L649.8 1226.4L639.2 1226.4Z"/>
<path d="M673.8 1133.1L679.1 1142.0L668.5 1142.0Z"/>
<path d="M709.6 1029.4L714.9 1038.3L704.3 1038.3Z"/>
<path d="M142.5 1693.8L147.2 1686.2L137.8 1686.2Z"/>
<path d="M143.5 1691.9L148.2 1684.2L138.9 1684.2Z"/>
<path d="M144.6 1689.9L149.3 1682.3L140.0 1682.3Z"/>
<path d="M145.9 1688.1L150.5 1680.5L141.2 1680.5Z"/>
<path d="M147.3 1686.3L151.9 1678.6L142.6 1678.6Z"/>
<path d="M148.8 1684.6L153.4 1677.0L144.1 1677.0Z"/>
<path d="M150.4 1683.0L155.1 1675.4L145.8 1675.4Z"/>
<path d="M152.2 1681.5L156.8 1673.9L147.5 1673.9Z"/>
<path d="M154.0 1680.1L158.6 1672.5L149.3 1672.5Z"/>
<path d="M155.8 1678.8L160.5 1671.2L151.2 1671.2Z"/>
<path d="M157.7 1677.6L162.3 1670.0L153.0 1670.0Z"/>
<path d="M159.7 1676.3L164.4 1668.7L155.1 1668.7Z"/>
<path d="M161.7 1675.1L166.4 1667.4L157.1 1667.4Z"/>
<path d="M163.8 1673.8L168.5 1666.2L159.2 1666.2Z"/>
<path d="M165.8 1672.6L170.5 1664.9L161.2 1664.9Z"/>
<path d="M167.7 1671.4L172.4 1663.7L163.1 1663.7Z"/>
<path d="M169.6 1670.1L174.2 1662.5L164.9 1662.5Z"/>
<path d="M171.5 1668.9L176.1 1661.3L166.8 1661.3Z"/>
<path d="M173.4 1667.7L178.0 1660.1L168.7 1660.1Z"/>
<path d="M175.3 1666.6L179.9 1658.9L170.6 1658.9Z"/>
<path d="M177.2 1665.4L181.9 1657.7L172.6 1657.7Z"/>
<path d="M179.2 1664.2L183.8 1656.6L174.5 1656.6Z"/>
<path d="M181.1 1663.1L185.7 1655.5L176.4 1655.5Z"/>
<path d="M183.0 1662.0L187.7 1654.4L178.4 1654.4Z"/>
<path d="M185.2 1660.9L189.8 1653.2L180.5 1653.2Z"/>
<path d="M187.3 1659.8L192.0 1652.1L182.7 1652.1Z"/>
<path d="M189.5 1658.7L194.1 1651.1L184.8 1651.1Z"/>
<path d="M191.6 1657.7L196.3 1650.1L187.0 1650.1Z"/>
<path d="M193.8 1656.8L198.4 1649.1L189.1 1649.1Z"/>
<path d="M195.9 1655.9L200.5 1648.2L191.2 1648.2Z"/>
<path d="M198.0 1655.0L202.7 1647.3L193.4 1647.3Z"/>
<path d="M200.1 1654.1L204.8 1646.4L195.5 1646.4Z"/>
<path d="M202.2 1653.2L206.9 1645.5L197.6 1645.5Z"/>
<path d="M204.4 1652.2L209.0 1644.6L199.7 1644.6Z"/>
<path d="M206.5 1651.3L211.1 1643.6L201.8 1643.6Z"/>
<path d="M208.6 1650.4L213.3 1642.7L204.0 1642.7Z"/>
<path d="M210.7 1649.5L215.4 1641.8L206.1 1641.8Z"/>
<path d="M212.9 1648.6L217.5 1641.0L208.2 1641.0Z"/>
<path d="M215.0 1647.7L219.6 1640.1L210.3 1640.1Z"/>
<path d="M217.1 1646.9L221.8 1639.3L212.5 1639.3Z"/>
<path d="M219.3 1646.1L223.9 1638.4L214.6 1638.4Z"/>
<path d="M221.4 1645.3L226.1 1637.7L216.8 1637.7Z"/>
<path d="M223.6 1644.6L228.2 1636.9L218.9 1636.9Z"/>
<path d="M225.7 1643.8L230.4 1636.2L221.1 1636.2Z"/>
<path d="M228.0 1643.1L232.7 1635.4L223.4 1635.4Z"/>
<path d="M230.3 1642.4L234.9 1634.7L225.6 1634.7Z"/>
<path d="M232.4 1641.7L237.1 1634.0L227.8 1634.0Z"/>
<path d="M234.7 1641.0L239.4 1633.3L230.1 1633.3Z"/>
<path d="M236.9 1640.3L241.5 1632.7L232.2 1632.7Z"/>
<path d="M239.1 1639.7L243.7 1632.0L234.4 1632.0Z"/>
<path d="M241.4 1639.0L246.1 1631.3L236.8 1631.3Z"/>
<path d="M243.7 1638.4L248.3 1630.7L239.0 1630.7Z"/>
<path d="M245.9 1637.8L250.5 1630.1L241.2 1630.1Z"/>
<path d="M248.3 1637.2L252.9 1629.5L243.6 1629.5Z"/>
<path d="M250.4 1636.6L255.1 1629.0L245.8 1629.0Z"/>
<path d="M252.6 1636.1L257.2 1628.4L247.9 1628.4Z"/>
<path d="M254.8 1635.6L259.4 1627.9L250.1 1627.9Z"/>
<path d="M256.9 1635.2L261.6 1627.5L252.3 1627.5Z"/>
<path d="M259.4 1634.8L264.1 1627.1L254.7 1627.1Z"/>
<path d="M261.9 1634.4L266.5 1626.8L257.2 1626.8Z"/>
<path d="M264.3 1634.2L269.0 1626.5L259.6 1626.5Z"/>
<path d="M266.8 1633.9L271.4 1626.3L262.1 1626.3Z"/>
<path d="M269.2 1633.8L273.9 1626.1L264.5 1626.1Z"/>
<path d="M271.6 1633.6L276.3 1625.9L267.0 1625.9Z"/>
<path d="M274.1 1633.5L278.8 1625.8L269.4 1625.8Z"/>
<path d="M276.6 1633.3L281.2 1625.7L271.9 1625.7Z"/>
<path d="M279.0 1633.3L283.7 1625.6L274.3 1625.6Z"/>
<path d="M281.4 1633.2L286.1 1625.6L276.8 1625.6Z"/>
<path d="M283.9 1633.2L288.6 1625.6L279.2 1625.6Z"/>
<path d="M286.3 1633.3L291.0 1625.6L281.7 1625.6Z"/>
<path d="M288.8 1633.4L293.4 1625.7L284.1 1625.7Z"/>
<path d="M291.2 1633.5L295.8 1625.9L286.5 1625.9Z"/>
<path d="M293.6 1633.7L298.2 1626.1L288.9 1626.1Z"/>
<path d="M296.0 1633.9L300.7 1626.3L291.4 1626.3Z"/>
<path d="M298.5 1634.1L303.2 1626.5L293.9 1626.5Z"/>
<path d="M300.8 1634.3L305.4 1626.7L296.1 1626.7Z"/>
<path d="M303.0 1634.5L307.7 1626.9L298.4 1626.9Z"/>
<path d="M305.4 1634.7L310.0 1627.1L300.7 1627.1Z"/>
<path d="M307.8 1634.9L312.4 1627.3L303.1 1627.3Z"/>
<path d="M310.2 1635.2L314.8 1627.5L305.5 1627.5Z"/>
<path d="M312.6 1635.4L317.3 1627.7L308.0 1627.7Z"/>
<path d="M315.2 1635.7L319.8 1628.0L310.5 1628.0Z"/>
<path d="M317.7 1636.0L322.4 1628.3L313.1 1628.3Z"/>
<path d="M319.9 1636.2L324.6 1628.6L315.3 1628.6Z"/>
<path d="M322.2 1636.5L326.8 1628.8L317.5 1628.8Z"/>
<path d="M324.5 1636.8L329.1 1629.1L319.8 1629.1Z"/>
<path d="M326.8 1637.1L331.4 1629.4L322.1 1629.4Z"/>
<path d="M329.1 1637.4L333.7 1629.8L324.4 1629.8Z"/>
<path d="M331.3 1637.8L336.0 1630.1L326.7 1630.1Z"/>
<path d="M333.6 1638.2L338.2 1630.5L328.9 1630.5Z"/>
<path d="M335.7 1638.6L340.4 1631.0L331.1 1631.0Z"/>
<path d="M337.9 1639.1L342.5 1631.5L333.2 1631.5Z"/>
<path d="M340.4 1639.8L345.1 1632.1L335.8 1632.1Z"/>
<path d="M343.0 1640.5L347.6 1632.8L338.3 1632.8Z"/>
<path d="M345.5 1641.2L350.2 1633.5L340.9 1633.5Z"/>
<path d="M348.0 1641.9L352.7 1634.3L343.4 1634.3Z"/>
<path d="M350.6 1642.7L355.2 1635.0L345.9 1635.0Z"/>
<path d="M352.7 1643.2L357.4 1635.6L348.0 1635.6Z"/>
<path d="M354.8 1643.8L359.5 1636.2L350.2 1636.2Z"/>
<path d="M356.9 1644.4L361.6 1636.8L352.3 1636.8Z"/>
<path d="M359.1 1645.0L363.7 1637.4L354.4 1637.4Z"/>
<path d="M361.2 1645.6L365.9 1638.0L356.5 1638.0Z"/>
<path d="M363.3 1646.3L368.0 1638.6L358.7 1638.6Z"/>
<path d="M365.4 1646.9L370.1 1639.3L360.8 1639.3Z"/>
<path d="M367.6 1647.6L372.2 1640.0L362.9 1640.0Z"/>
<path d="M369.7 1648.4L374.4 1640.7L365.0 1640.7Z"/>
<path d="M371.8 1649.2L376.5 1641.5L367.2 1641.5Z"/>
<path d="M373.9 1650.0L378.6 1642.4L369.3 1642.4Z"/>
<path d="M376.1 1650.9L380.7 1643.2L371.4 1643.2Z"/>
<path d="M378.2 1651.8L382.9 1644.1L373.5 1644.1Z"/>
<path d="M380.3 1652.6L385.0 1645.0L375.7 1645.0Z"/>
<path d="M382.4 1653.4L387.1 1645.8L377.8 1645.8Z"/>
<path d="M384.6 1654.2L389.2 1646.6L379.9 1646.6Z"/>
<path d="M386.7 1655.0L391.4 1647.3L382.1 1647.3Z"/>
<path d="M388.9 1655.7L393.6 1648.0L384.3 1648.0Z"/>
<path d="M391.1 1656.3L395.8 1648.7L386.5 1648.7Z"/>
<path d="M393.3 1657.0L398.0 1649.3L388.7 1649.3Z"/>
<path d="M395.5 1657.6L400.1 1650.0L390.8 1650.0Z"/>
<path d="M397.6 1658.2L402.3 1650.6L393.0 1650.6Z"/>
<path d="M400.1 1658.9L404.7 1651.3L395.4 1651.3Z"/>
<path d="M402.4 1659.6L407.0 1651.9L397.7 1651.9Z"/>
<path d="M404.6 1660.2L409.2 1652.6L399.9 1652.6Z"/>
<path d="M407.0 1660.9L411.6 1653.3L402.3 1653.3Z"/>
<path d="M409.3 1661.6L413.9 1654.0L404.6 1654.0Z"/>
<path d="M411.4 1662.2L416.1 1654.6L406.8 1654.6Z"/>
<path d="M413.8 1662.8L418.5 1655.2L409.2 1655.2Z"/>
<path d="M416.1 1663.3L420.8 1655.6L411.5 1655.6Z"/>
<path d="M418.4 1663.7L423.1 1656.0L413.8 1656.0Z"/>
<path d="M420.8 1663.9L425.5 1656.3L416.2 1656.3Z"/>
<path d="M423.2 1664.1L427.9 1656.4L418.6 1656.4Z"/>
<path d="M425.5 1664.1L430.2 1656.4L420.9 1656.4Z"/>
<path d="M428.0 1663.9L432.6 1656.3L423.3 1656.3Z"/>
<path d="M430.2 1663.7L434.8 1656.1L425.5 1656.1Z"/>
<path d="M432.4 1663.4L437.0 1655.8L427.7 1655.8Z"/>
<path d="M434.6 1663.1L439.3 1655.4L430.0 1655.4Z"/>
<path d="M436.8 1662.6L441.5 1654.9L432.2 1654.9Z"/>
<path d="M439.0 1662.0L443.7 1654.4L434.4 1654.4Z"/>
<path d="M441.2 1661.3L445.9 1653.7L436.6 1653.7Z"/>
<path d="M443.4 1660.6L448.1 1652.9L438.8 1652.9Z"/>
<path d="M445.6 1659.8L450.3 1652.1L441.0 1652.1Z"/>
<path d="M447.8 1658.9L452.5 1651.3L443.2 1651.3Z"/>
<path d="M450.0 1658.0L454.6 1650.4L445.3 1650.4Z"/>
<path d="M452.2 1657.1L456.8 1649.4L447.5 1649.4Z"/>
<path d="M454.4 1656.0L459.0 1648.4L449.7 1648.4Z"/>
<path d="M456.6 1655.0L461.2 1647.3L451.9 1647.3Z"/>
<path d="M458.6 1654.0L463.2 1646.3L453.9 1646.3Z"/>
<path d="M460.6 1653.0L465.2 1645.3L455.9 1645.3Z"/>
<path d="M462.6 1651.9L467.3 1644.3L458.0 1644.3Z"/>
<path d="M464.7 1650.9L469.4 1643.2L460.1 1643.2Z"/>
<path d="M466.8 1649.8L471.5 1642.1L462.2 1642.1Z"/>
<path d="M469.0 1648.7L473.7 1641.1L464.4 1641.1Z"/>
<path d="M471.3 1647.7L476.0 1640.0L466.7 1640.0Z"/>
<path d="M473.4 1646.9L478.0 1639.2L468.7 1639.2Z"/>
<path d="M475.5 1646.1L480.2 1638.4L470.9 1638.4Z"/>
<path d="M477.7 1645.2L482.3 1637.6L473.0 1637.6Z"/>
<path d="M479.8 1644.4L484.5 1636.7L475.2 1636.7Z"/>
<path d="M481.9 1643.4L486.6 1635.8L477.3 1635.8Z"/>
<path d="M484.0 1642.4L488.7 1634.7L479.3 1634.7Z"/>
<path d="M486.1 1641.1L490.8 1633.5L481.5 1633.5Z"/>
<path d="M488.0 1639.9L492.7 1632.2L483.4 1632.2Z"/>
<path d="M489.9 1638.6L494.5 1630.9L485.2 1630.9Z"/>
<path d="M491.7 1637.2L496.4 1629.6L487.1 1629.6Z"/>
<path d="M493.8 1635.7L498.4 1628.1L489.1 1628.1Z"/>
<path d="M495.8 1634.3L500.4 1626.6L491.1 1626.6Z"/>
<path d="M497.0 1633.4L501.7 1625.7L492.3 1625.7Z"/>
<path d="M508.0 1625.4L513.1 1616.9L502.9 1616.9Z"/>
<path d="M518.5 1616.9L523.6 1608.4L513.4 1608.4Z"/>
<path d="M526.8 1607.9L531.9 1599.4L521.7 1599.4Z"/>
<path d="M536.8 1594.1L541.9 1585.6L531.7 1585.6Z"/>
<path d="M548.0 1579.5L553.1 1571.0L542.9 1571.0Z"/>
<path d="M558.1 1561.4L563.2 1552.9L553.0 1552.9Z"/>
<path d="M569.1 1539.5L574.2 1531.0L564.0 1531.0Z"/>
<path d="M581.9 1513.9L587.0 1505.4L576.8 1505.4Z"/>
<path d="M594.7 1484.9L599.8 1476.4L589.6 1476.4Z"/>
<path d="M612.0 1450.6L617.1 1442.1L606.9 1442.1Z"/>
<path d="M629.1 1408.1L634.2 1399.6L624.0 1399.6Z"/>
<path d="M648.4 1356.5L653.5 1348.0L643.3 1348.0Z"/>
<path d="M672.3 1298.5L677.4 1290.0L667.2 1290.0Z"/>
<path d="M700.9 1229.4L706.0 1220.9L695.8 1220.9Z"/>
<path d="M734.7 1144.4L739.8 1135.9L729.6 1135.9Z"/>
<path d="M775.8 1044.4L780.9 1035.9L770.7 1035.9Z"/>
</g>
</g>
</svg>
</body></html>
